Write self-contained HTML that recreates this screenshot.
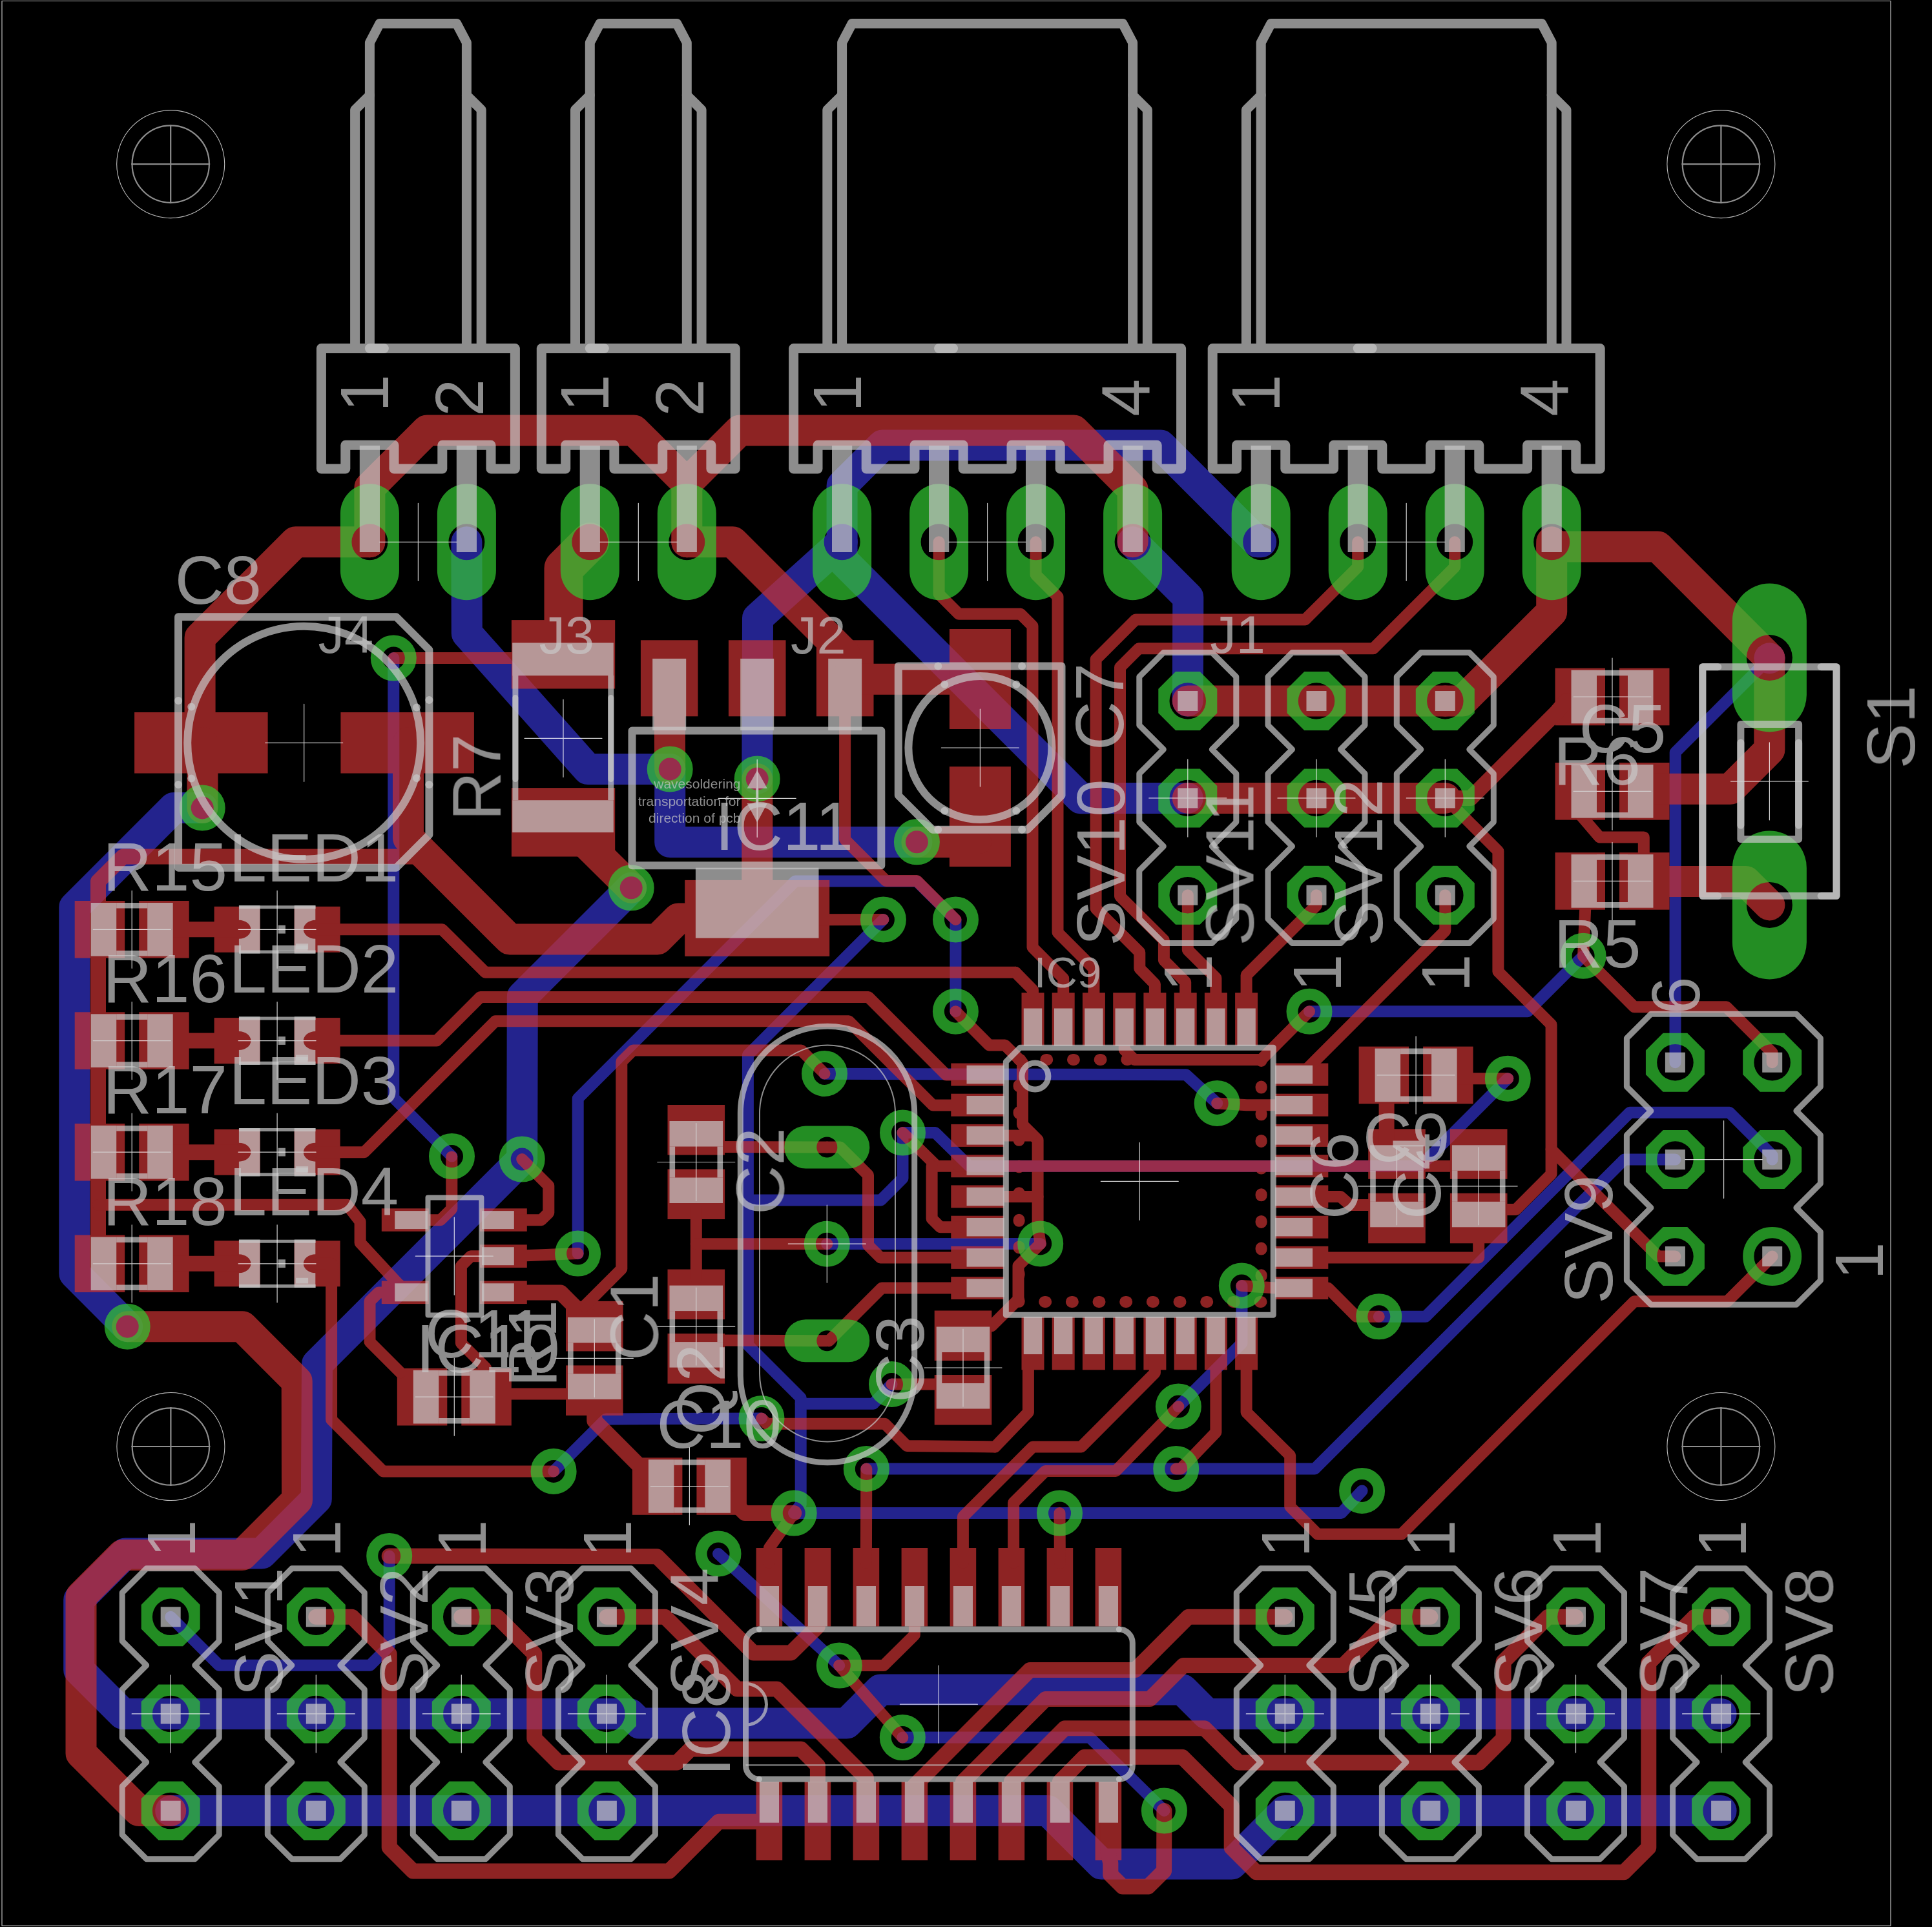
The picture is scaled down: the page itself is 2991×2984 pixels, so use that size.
<!DOCTYPE html><html lang="en"><head><meta charset="utf-8"><title>PCB layout</title><style>html,body{margin:0;padding:0;background:#000}svg{display:block}g{fill:none;stroke-linecap:round;stroke-linejoin:round}text{font-family:"Liberation Sans",sans-serif;stroke:none}#bottom .f{fill:#3232c8;stroke:none}#bottom text{fill:#3232c8}#top .f{fill:#c83232;stroke:none}#top text{fill:#c83232}#pads .f{fill:#32c832;stroke:none}#pads text{fill:#32c832}#vias .f{fill:#32c832;stroke:none}#vias text{fill:#32c832}#dim .f{fill:#c8c8c8;stroke:none}#dim text{fill:#c8c8c8}#tplace .f{fill:#c8c8c8;stroke:none}#tplace text{fill:#c8c8c8}#torig .f{fill:#c8c8c8;stroke:none}#torig text{fill:#c8c8c8}#tnames .f{fill:#c8c8c8;stroke:none}#tnames text{fill:#c8c8c8}#tcream .f{fill:#c8c8c8;stroke:none}#tcream text{fill:#c8c8c8}#tdocu .f{fill:#c8c8c8;stroke:none}#tdocu text{fill:#c8c8c8}#holes .f{fill:#c8c8c8;stroke:none}#holes text{fill:#c8c8c8}</style></head><body>
<svg width="2991" height="2984" viewBox="0 0 2991 2984">
<rect width="2991" height="2984" fill="#000"/>
<g id="bottom" opacity="0.706" stroke="#3232c8">
<polyline points="313.2,1251 269,1251 115.3,1404.7 115.3,1972 197.2,2054.2" stroke-width="48"/>
<polyline points="609.3,1019.1 609.3,1700 699.5,1790.6" stroke-width="18"/>
<polyline points="722.4,839.3 722.8,980.7 910.1,1191.1 1037.4,1191" stroke-width="48"/>
<polyline points="977.2,1374.8 808.8,1543 808.2,1795.1" stroke-width="48"/>
<polyline points="1037.2,1191 1037.2,1304 1419.4,1304" stroke-width="48"/>
<polyline points="1479.4,1566.2 1479.5,1424.5 1419.4,1364.6 1231,1364.6 894.7,1701 894.7,1941.3" stroke-width="18"/>
<polyline points="1303.6,839.3 1303.6,866.8 1673,1236.3 1838.8,1235.9" stroke-width="48"/>
<polyline points="1753.6,839.3 1839.3,925 1838.8,1085.5" stroke-width="48"/>
<polyline points="1397.5,1754.1 1448,1754.1 1500.5,1805.7 2198.8,1805.7 2334.3,1670.2" stroke-width="18"/>
<polyline points="1397.5,1754.1 1397.5,1824.7 1363.8,1858.4 1157.9,1858.4" stroke-width="18"/>
<polyline points="1276.5,1662.8 1836,1664.2 1884.2,1708.5" stroke-width="18"/>
<polyline points="1280.2,1926.2 1610.7,1925.9" stroke-width="18"/>
<polyline points="2027,1566.2 2365.2,1566.2 2451.1,1480.3" stroke-width="18"/>
<polyline points="1367.4,1424 1157.9,1633.5 1157.9,2082.8 1239.7,2164.6 1239.7,2330 1229.2,2343.1" stroke-width="18"/>
<polyline points="1239.7,2173.7 1352,2173.7 1380.5,2143.5" stroke-width="18"/>
<polyline points="857.1,2278.4 938.1,2197.4 1179,2196.4" stroke-width="18"/>
<polyline points="808.2,1795.1 491,2112.3 489.8,2321 405.2,2405.6 193.8,2405.6 122.2,2477.2 122.2,2585.9 190.3,2653.9 939.4,2653.9 975,2653.9 990,2668.6 1310.8,2668.6 1362.9,2616.5 1831,2616.5 1868.4,2653.9 2664.6,2653.9" stroke-width="48"/>
<polyline points="264.2,2804.1 1622.5,2804.1 1705,2886.6 1906.8,2886.6 1989.3,2804.1 2664.6,2804.1" stroke-width="48"/>
<polyline points="264.2,2503.8 339,2578.7 573,2578.7 602.7,2549 602.7,2409.6" stroke-width="18"/>
<polyline points="1112,2406 1299.3,2579.1" stroke-width="18"/>
<polyline points="1397.3,2690.6 1687.2,2690.6 1802.4,2803.9" stroke-width="18"/>
<polyline points="1229.2,2343.1 2076.4,2343.1 2108.6,2308.5" stroke-width="18"/>
<polyline points="1341.3,2274.5 2035.6,2274.5 2514.5,1795.6 2593.4,1795.6" stroke-width="18"/>
<polyline points="1824.4,2178.1 1922.5,2080 1922.5,1991" stroke-width="18"/>
<polyline points="1303.6,839.3 1303.6,752 1366,689.6 1797,689.6 1946.7,839.3 1952.2,839.3" stroke-width="48"/>
<polyline points="2739.4,1019.3 2593.7,1165 2593.5,1645.2" stroke-width="18"/>
<polyline points="2134.8,2038.8 2207,2038.8 2523,1722.8 2677.5,1722.8 2743.7,1789 2743.7,1795.6" stroke-width="18"/>
<polyline points="1303.6,839.3 1173,957 1172.3,1206.1" stroke-width="48"/>
<circle cx="2739.4" cy="1019.3" r="24" class="f"/>
</g>
<g id="top" opacity="0.706" stroke="#c83232">
<rect x="208.1" y="1103" width="206.5" height="94.5" class="f"/>
<rect x="527.4" y="1103" width="206.5" height="94.5" class="f"/>
<rect x="115.7" y="1395" width="77.5" height="88.6" class="f"/>
<rect x="215.2" y="1395" width="77.5" height="88.6" class="f"/>
<rect x="331.6" y="1403.8" width="71" height="71" class="f"/>
<rect x="455.6" y="1403.8" width="71" height="71" class="f"/>
<polyline points="254.2,1439.3 367.1,1439.3" stroke-width="24"/>
<rect x="115.7" y="1567.3" width="77.5" height="88.6" class="f"/>
<rect x="215.2" y="1567.3" width="77.5" height="88.6" class="f"/>
<rect x="331.6" y="1576.1" width="71" height="71" class="f"/>
<rect x="455.6" y="1576.1" width="71" height="71" class="f"/>
<polyline points="254.2,1611.6 367.1,1611.6" stroke-width="24"/>
<rect x="115.7" y="1739.9" width="77.5" height="88.6" class="f"/>
<rect x="215.2" y="1739.9" width="77.5" height="88.6" class="f"/>
<rect x="331.6" y="1748.7" width="71" height="71" class="f"/>
<rect x="455.6" y="1748.7" width="71" height="71" class="f"/>
<polyline points="254.2,1784.2 367.1,1784.2" stroke-width="24"/>
<rect x="115.7" y="1912.5" width="77.5" height="88.6" class="f"/>
<rect x="215.2" y="1912.5" width="77.5" height="88.6" class="f"/>
<rect x="331.6" y="1921.3" width="71" height="71" class="f"/>
<rect x="455.6" y="1921.3" width="71" height="71" class="f"/>
<polyline points="254.2,1956.8 367.1,1956.8" stroke-width="24"/>
<polyline points="572.4,839.3 457.5,839.3 309.6,987.2 309.6,1150" stroke-width="48"/>
<polyline points="313.5,1150 313.5,1251" stroke-width="48"/>
<polyline points="609.3,1019.1 850,1019.1" stroke-width="18"/>
<polyline points="152,1956.8 152,1365 190.5,1326.5 640,1326.5" stroke-width="24"/>
<polyline points="632,1150 632,1297.5 788.9,1454.4 1018,1454.4 1050,1422.4 1172,1422.4" stroke-width="48"/>
<polyline points="491,1439.3 684.6,1439.3 751.2,1505.7 1572,1505.7" stroke-width="18"/>
<polyline points="491,1611.6 676,1611.6 743.7,1543.9 1344.3,1543.9 1465,1664.6 1490,1664.6" stroke-width="18"/>
<polyline points="491,1784.2 564,1784.2 767,1581.2 1313.9,1581.2 1444.2,1711.5 1490,1711.5" stroke-width="18"/>
<rect x="791.9" y="960.1" width="160.3" height="106.4" class="f"/>
<rect x="791.9" y="1220.1" width="160.3" height="106.4" class="f"/>
<polyline points="913.3,839.3 872.5,880 872.5,1013" stroke-width="60"/>
<polyline points="872,1271 977.2,1374.8" stroke-width="48"/>
<rect x="991.9" y="991.3" width="88.6" height="118" class="f"/>
<rect x="1127.9" y="991.3" width="88.6" height="118" class="f"/>
<rect x="1263.9" y="991.3" width="88.6" height="118" class="f"/>
<rect x="1060.2" y="1362.9" width="224" height="118" class="f"/>
<polyline points="1036.4,1050 1037.2,1191" stroke-width="48"/>
<polyline points="1172.3,1206.1 1172.3,1422" stroke-width="48"/>
<polyline points="1308.2,1050 1308,1300 1371.6,1363.9 1419.4,1363.9 1479.5,1424" stroke-width="18"/>
<polyline points="1308.2,1051.8 1517,1051.8" stroke-width="48"/>
<polyline points="1260,1424.4 1367.4,1424" stroke-width="18"/>
<polyline points="1419.4,1304 1517,1304" stroke-width="48"/>
<rect x="1469.9" y="974" width="95" height="155" class="f"/>
<rect x="1469.9" y="1187" width="95" height="155" class="f"/>
<polyline points="1838.8,1085.5 2237.3,1085.5" stroke-width="48"/>
<polyline points="1838.8,1235.9 2237.3,1235.9" stroke-width="48"/>
<polyline points="1419.4,1304 1517,1304" stroke-width="36"/>
<polyline points="1572,1505.7 1599,1533 1599,1577" stroke-width="18"/>
<polyline points="1453.6,839.3 1453.6,920 1484.4,950.8 1580,950.8 1598.5,969.3 1598.5,1467 1646.2,1515 1646.2,1577" stroke-width="18"/>
<polyline points="1603.6,839.3 1603.6,890 1637.5,924 1637.5,1444 1693.4,1500 1693.4,1577" stroke-width="18"/>
<polyline points="2102.2,839.3 2102.2,878 2020.7,959.4 1758.2,959.4 1696.6,1021 1696.6,1407 1764.3,1474.7 1764.3,1499.7 1787.9,1523.8 1787.9,1577" stroke-width="18"/>
<polyline points="2252.2,839.3 2252.2,878 2126,1004.3 1763,1004.3 1734,1033.4 1734,1388 1801.9,1455.9 1801.9,1487 1835.2,1520.7 1835.2,1577" stroke-width="18"/>
<polyline points="1838.8,1386.2 1838.8,1471 1882.4,1514.4 1882.4,1577" stroke-width="18"/>
<polyline points="2038,1386.2 2038,1402 1929.6,1510 1929.6,1577" stroke-width="18"/>
<rect x="1581.5" y="1537.3" width="35" height="82" class="f"/>
<rect x="1581.5" y="2039.3" width="35" height="82" class="f"/>
<rect x="1472.3" y="1646.5" width="82" height="35" class="f"/>
<rect x="1974.3" y="1646.5" width="82" height="35" class="f"/>
<rect x="1628.7" y="1537.3" width="35" height="82" class="f"/>
<rect x="1628.7" y="2039.3" width="35" height="82" class="f"/>
<rect x="1472.3" y="1693.7" width="82" height="35" class="f"/>
<rect x="1974.3" y="1693.7" width="82" height="35" class="f"/>
<rect x="1675.9" y="1537.3" width="35" height="82" class="f"/>
<rect x="1675.9" y="2039.3" width="35" height="82" class="f"/>
<rect x="1472.3" y="1740.9" width="82" height="35" class="f"/>
<rect x="1974.3" y="1740.9" width="82" height="35" class="f"/>
<rect x="1723.2" y="1537.3" width="35" height="82" class="f"/>
<rect x="1723.2" y="2039.3" width="35" height="82" class="f"/>
<rect x="1472.3" y="1788.2" width="82" height="35" class="f"/>
<rect x="1974.3" y="1788.2" width="82" height="35" class="f"/>
<rect x="1770.4" y="1537.3" width="35" height="82" class="f"/>
<rect x="1770.4" y="2039.3" width="35" height="82" class="f"/>
<rect x="1472.3" y="1835.4" width="82" height="35" class="f"/>
<rect x="1974.3" y="1835.4" width="82" height="35" class="f"/>
<rect x="1817.7" y="1537.3" width="35" height="82" class="f"/>
<rect x="1817.7" y="2039.3" width="35" height="82" class="f"/>
<rect x="1472.3" y="1882.7" width="82" height="35" class="f"/>
<rect x="1974.3" y="1882.7" width="82" height="35" class="f"/>
<rect x="1864.9" y="1537.3" width="35" height="82" class="f"/>
<rect x="1864.9" y="2039.3" width="35" height="82" class="f"/>
<rect x="1472.3" y="1929.9" width="82" height="35" class="f"/>
<rect x="1974.3" y="1929.9" width="82" height="35" class="f"/>
<rect x="1912.1" y="1537.3" width="35" height="82" class="f"/>
<rect x="1912.1" y="2039.3" width="35" height="82" class="f"/>
<rect x="1472.3" y="1977.1" width="82" height="35" class="f"/>
<rect x="1974.3" y="1977.1" width="82" height="35" class="f"/>
<rect x="1577.6" y="1640.9" width="375" height="375" stroke-width="18" stroke-dasharray="2 39.67"/>
<polyline points="1479.4,1566.2 1531.3,1618.4 1555.7,1618.4 1583,1645.6 1583,1741.6 1606.6,1765.2 1606.6,1900 1610.7,1925.9" stroke-width="18"/>
<polyline points="1524.3,1758.4 1596,1758.4" stroke-width="18"/>
<polyline points="1524.3,1852.9 1606.6,1852.9" stroke-width="18"/>
<polyline points="1484.3,1805.7 1450,1805.7 1397.5,1754.1" stroke-width="18"/>
<polyline points="1442.6,1805.7 1442.6,1887.2 1455.6,1900.2 1484.3,1900.2" stroke-width="18"/>
<polyline points="1484.3,1805.7 2289,1805.7" stroke-width="18"/>
<polyline points="1484.3,1947.4 1363,1947.4 1344,1928.4 1344,1819.7 1300.9,1776.6 1280.5,1776.6" stroke-width="18"/>
<polyline points="1484.3,1994.6 1365,1994.6 1283.3,2076.4" stroke-width="18"/>
<polyline points="1610.7,1925.9 1576.5,1960 1576.5,2012 1535,2053.5" stroke-width="18"/>
<rect x="2103.6" y="1620.6" width="77.5" height="88.6" class="f"/>
<rect x="2203.1" y="1620.6" width="77.5" height="88.6" class="f"/>
<rect x="2118.2" y="1748.3" width="88.6" height="77.5" class="f"/>
<rect x="2118.2" y="1847.8" width="88.6" height="77.5" class="f"/>
<rect x="2244.9" y="1748.3" width="88.6" height="77.5" class="f"/>
<rect x="2244.9" y="1847.8" width="88.6" height="77.5" class="f"/>
<polyline points="2250,1670.2 2334.3,1670.2" stroke-width="18"/>
<polyline points="2146.6,1680 2146.6,1780" stroke-width="24"/>
<polyline points="2004.3,1852.9 2075,1852.9 2090,1866 2125,1866" stroke-width="18"/>
<polyline points="1884.2,1708.5 1930,1711.2 2044.3,1711.2" stroke-width="18"/>
<polyline points="2237.3,1386.2 2237.3,1441.3 2014.6,1664" stroke-width="18"/>
<polyline points="1740.7,1577 1740.7,1625.7 1756,1640.9 1952.6,1640.9 2027,1566.2" stroke-width="18"/>
<polyline points="2237.3,1235.9 2319.4,1318 2319.4,1504.5 2401.6,1586.7 2401.6,1818 2347,1872.9 2320,1872.9" stroke-width="18"/>
<polyline points="2401.6,1780 2567,1945.5 2593.4,1945.6" stroke-width="18"/>
<polyline points="2004.3,1947.4 2289.2,1947.4 2289.2,1890" stroke-width="18"/>
<rect x="1033.5" y="1711" width="88.6" height="77.5" class="f"/>
<rect x="1033.5" y="1810.5" width="88.6" height="77.5" class="f"/>
<rect x="1033.5" y="1965.6" width="88.6" height="77.5" class="f"/>
<rect x="1033.5" y="2065.1" width="88.6" height="77.5" class="f"/>
<rect x="1446.7" y="2029.5" width="88.6" height="77.5" class="f"/>
<rect x="1446.7" y="2129" width="88.6" height="77.5" class="f"/>
<polyline points="1077.8,1870 1077.8,1980" stroke-width="18"/>
<polyline points="1077.8,1926.2 1280.3,1926.2" stroke-width="18"/>
<polyline points="1110,1776.1 1280.3,1776.4" stroke-width="18"/>
<polyline points="1110,2075.6 1280.3,2076.2" stroke-width="18"/>
<polyline points="1380.5,2143.5 1460,2143.5" stroke-width="18"/>
<polyline points="1179,2196.4 1187,2204.8 1370,2204.8 1404,2239 1540.5,2240.4" stroke-width="18"/>
<rect x="590.8" y="1871.3" width="73" height="35.6" class="f"/>
<rect x="590.8" y="1983.5" width="73" height="35.6" class="f"/>
<rect x="742.8" y="1871.3" width="73" height="35.6" class="f"/>
<rect x="742.8" y="1927.4" width="73" height="35.6" class="f"/>
<rect x="742.8" y="1983.5" width="73" height="35.6" class="f"/>
<rect x="614.8" y="2118.9" width="77.5" height="88.6" class="f"/>
<rect x="714.3" y="2118.9" width="77.5" height="88.6" class="f"/>
<rect x="876" y="2014.9" width="88.6" height="77.5" class="f"/>
<rect x="876" y="2114.4" width="88.6" height="77.5" class="f"/>
<rect x="978.9" y="2257.2" width="77.5" height="88.6" class="f"/>
<rect x="1078.4" y="2257.2" width="77.5" height="88.6" class="f"/>
<polyline points="699.3,1791.4 699.3,1872 682,1889.2 640,1889.2" stroke-width="18"/>
<polyline points="808.2,1795.1 849.3,1836.2 849.3,1878 838,1889.2 790,1889.2" stroke-width="18"/>
<polyline points="790,1945.2 894.6,1941.1" stroke-width="18"/>
<polyline points="790,2001.6 868,2001.6 895,2028.6 915,2040" stroke-width="24"/>
<polyline points="1276.5,1662.5 1240.4,1626.4 980,1626.4 962.3,1644 962.3,1965 905,2022.3" stroke-width="18"/>
<polyline points="750,1945.2 729,1945.2 713.9,1960.3 713.9,2080 752,2118" stroke-width="18"/>
<polyline points="610,2001.6 586,2001.6 572.5,2015 572.5,2078 620,2125.5" stroke-width="18"/>
<polyline points="152,1865.8 537.4,1865.8 557.6,1891.7 557.6,1924.4 615.2,1986.6 632,2001.6" stroke-width="18"/>
<polyline points="491,1956.8 513.1,1956.8 513.1,2198.4 593.1,2278.4 857.1,2278.4" stroke-width="18"/>
<polyline points="920.3,2170 920.3,2200 1000,2280 1017,2301" stroke-width="24"/>
<polyline points="770,2158.5 890,2158.5" stroke-width="18"/>
<polyline points="197.2,2054.2 375.2,2054.2 459.7,2139 460,2322.8 374.9,2408 189.6,2408 125.5,2472.1 125.5,2715 214.9,2804.1 264.2,2804.1" stroke-width="48"/>
<polyline points="489.3,2503.8 545,2503.8 602.7,2561.5 602.7,2860.8 639.4,2897.5 1035.9,2897.5 1112.7,2820.7 1190.9,2820.7" stroke-width="24"/>
<polyline points="602.7,2409.6 1017.2,2410.3 1166.4,2559.5 1224.5,2559.5 1265.9,2518.4 1265.9,2480" stroke-width="24"/>
<polyline points="714.3,2503.8 770,2503.8 827.3,2561 827.3,2692 864.8,2729.5 1048,2729.5 1069,2708.6 1240.1,2708.6 1265.9,2734.2 1265.9,2780" stroke-width="24"/>
<polyline points="939.4,2503.8 1029.7,2503.8 1141.2,2615.5 1202.7,2615.5 1340.9,2753.2 1340.9,2780" stroke-width="24"/>
<rect x="1170.6" y="2397" width="40.6" height="121.5" class="f"/>
<rect x="1170.6" y="2759" width="40.6" height="121.5" class="f"/>
<rect x="1245.6" y="2397" width="40.6" height="121.5" class="f"/>
<rect x="1245.6" y="2759" width="40.6" height="121.5" class="f"/>
<rect x="1320.6" y="2397" width="40.6" height="121.5" class="f"/>
<rect x="1320.6" y="2759" width="40.6" height="121.5" class="f"/>
<rect x="1395.6" y="2397" width="40.6" height="121.5" class="f"/>
<rect x="1395.6" y="2759" width="40.6" height="121.5" class="f"/>
<rect x="1470.6" y="2397" width="40.6" height="121.5" class="f"/>
<rect x="1470.6" y="2759" width="40.6" height="121.5" class="f"/>
<rect x="1545.6" y="2397" width="40.6" height="121.5" class="f"/>
<rect x="1545.6" y="2759" width="40.6" height="121.5" class="f"/>
<rect x="1620.6" y="2397" width="40.6" height="121.5" class="f"/>
<rect x="1620.6" y="2759" width="40.6" height="121.5" class="f"/>
<rect x="1695.6" y="2397" width="40.6" height="121.5" class="f"/>
<rect x="1695.6" y="2759" width="40.6" height="121.5" class="f"/>
<polyline points="1299.3,2579.1 1397.3,2690.6" stroke-width="18"/>
<polyline points="1299.3,2579.1 1368,2579.1 1415.9,2531.7 1415.9,2480" stroke-width="18"/>
<polyline points="1229.2,2343.1 1190.9,2397 1190.9,2420" stroke-width="18"/>
<polyline points="1130,2320 1153,2343.1 1229.2,2343.1" stroke-width="24"/>
<polyline points="1340.9,2420 1341.3,2274.5" stroke-width="18"/>
<polyline points="1640.9,2420 1640.5,2343.1" stroke-width="18"/>
<polyline points="1415.9,2800 1415.9,2765 1594.4,2586 1757.4,2586 1839.7,2503.8 1989.3,2503.8" stroke-width="24"/>
<polyline points="1490.9,2800 1490.9,2759 1618.7,2631.1 1780,2631.1 1832,2579.1 2079.5,2579.1 2154.9,2503.8 2214.4,2503.8" stroke-width="24"/>
<polyline points="1565.9,2800 1565.9,2759 1648.3,2676.2 1864.7,2676.2 1918,2729.5 2290,2729.5 2327.6,2692 2327.6,2573 2396.6,2503.8 2439.5,2503.8" stroke-width="24"/>
<polyline points="1640.9,2800 1640.9,2759 1678.7,2720.8 1830.4,2720.8 1906.7,2797.1 1906.7,2861 1945,2899.2 2514,2899.2 2552.3,2861 2552.3,2575 2623.5,2503.8 2664.6,2503.8" stroke-width="24"/>
<polyline points="1715.9,2800 1715.9,2870 1719.3,2885 1719.3,2903 1737.9,2921.6 1777.5,2921.6 1802.1,2897 1802.4,2803.9" stroke-width="24"/>
<polyline points="1540.5,2240.4 1591.9,2187 1591.9,2089.3 1599,2079.3" stroke-width="18"/>
<polyline points="1787.9,2079.3 1787.9,2126 1674,2240.4 1599,2240.4 1490.9,2348.6 1490.9,2420" stroke-width="18"/>
<polyline points="1882.4,2079.3 1882.4,2218 1828,2274.6 1820.7,2274.6" stroke-width="18"/>
<polyline points="1824.4,2178.1 1727.3,2278 1618.3,2278 1569.1,2327 1569.1,2420" stroke-width="18"/>
<polyline points="1929.6,2079.3 1929.6,2187 1997.2,2253.8 1997.2,2333 2040,2375.8 2169.5,2375.8 2530,2015.3 2673.9,2015.3 2743.7,1945.6" stroke-width="18"/>
<polyline points="572.4,839.3 572.4,755 661,666.4 981.4,666.4 1063.3,748.3 1063.3,839.3" stroke-width="48"/>
<polyline points="1063.3,748.3 1145.2,666.4 1662.4,666.4 1753.6,757.6 1753.6,839.3" stroke-width="48"/>
<polyline points="1063.3,839.3 1134.5,839.3 1308.2,1013" stroke-width="48"/>
<rect x="2407.5" y="1034.7" width="77.5" height="88.6" class="f"/>
<rect x="2507" y="1034.7" width="77.5" height="88.6" class="f"/>
<rect x="2407.5" y="1181" width="77.5" height="88.6" class="f"/>
<rect x="2507" y="1181" width="77.5" height="88.6" class="f"/>
<rect x="2407.5" y="1320.1" width="77.5" height="88.6" class="f"/>
<rect x="2507" y="1320.1" width="77.5" height="88.6" class="f"/>
<polyline points="2402.2,846.5 2566.6,846.5 2739.4,1019.3" stroke-width="48"/>
<polyline points="2402.2,839.3 2402.2,947.5 2264.2,1085.5 2237.3,1085.5" stroke-width="48"/>
<polyline points="2237.3,1235.9 2276.8,1235.9 2409,1103.7 2425,1085" stroke-width="24"/>
<polyline points="2560,1221.7 2678.7,1221.7 2739.4,1161 2739.4,1019.3" stroke-width="48"/>
<polyline points="2560,1364.9 2702.7,1364.9 2739.4,1401.4" stroke-width="48"/>
<polyline points="2446.8,1262 2476.3,1296.4 2544.8,1296.4 2544.8,1330" stroke-width="18"/>
<polyline points="2454.5,1400 2451.1,1480.3" stroke-width="18"/>
<polyline points="2451.1,1480.3 2530.1,1559.3 2672.8,1559.3 2743.7,1630.2 2743.7,1645.2" stroke-width="18"/>
<polyline points="2004.3,1994.6 2056,1994.6 2100,2038.8 2134.8,2038.8" stroke-width="18"/>
<polyline points="1922.3,1991 1975,1994.6" stroke-width="18"/>
</g>
<g id="pads" opacity="0.706" stroke="#32c832">
<path d="M572.4,749.3h0a45.5,45.5 0 0,1 45.5,45.5v89a45.5,45.5 0 0,1 -45.5,45.5h-0a45.5,45.5 0 0,1 -45.5,-45.5v-89a45.5,45.5 0 0,1 45.5,-45.5zM544.4,839.3a28,28 0 1,0 56,0a28,28 0 1,0 -56,0z" class="f" fill-rule="evenodd"/>
<path d="M722.4,749.3h0a45.5,45.5 0 0,1 45.5,45.5v89a45.5,45.5 0 0,1 -45.5,45.5h-0a45.5,45.5 0 0,1 -45.5,-45.5v-89a45.5,45.5 0 0,1 45.5,-45.5zM694.4,839.3a28,28 0 1,0 56,0a28,28 0 1,0 -56,0z" class="f" fill-rule="evenodd"/>
<path d="M913.3,749.3h0a45.5,45.5 0 0,1 45.5,45.5v89a45.5,45.5 0 0,1 -45.5,45.5h-0a45.5,45.5 0 0,1 -45.5,-45.5v-89a45.5,45.5 0 0,1 45.5,-45.5zM885.3,839.3a28,28 0 1,0 56,0a28,28 0 1,0 -56,0z" class="f" fill-rule="evenodd"/>
<path d="M1063.3,749.3h0a45.5,45.5 0 0,1 45.5,45.5v89a45.5,45.5 0 0,1 -45.5,45.5h-0a45.5,45.5 0 0,1 -45.5,-45.5v-89a45.5,45.5 0 0,1 45.5,-45.5zM1035.3,839.3a28,28 0 1,0 56,0a28,28 0 1,0 -56,0z" class="f" fill-rule="evenodd"/>
<path d="M1303.6,749.3h0a45.5,45.5 0 0,1 45.5,45.5v89a45.5,45.5 0 0,1 -45.5,45.5h-0a45.5,45.5 0 0,1 -45.5,-45.5v-89a45.5,45.5 0 0,1 45.5,-45.5zM1275.6,839.3a28,28 0 1,0 56,0a28,28 0 1,0 -56,0z" class="f" fill-rule="evenodd"/>
<path d="M1453.6,749.3h0a45.5,45.5 0 0,1 45.5,45.5v89a45.5,45.5 0 0,1 -45.5,45.5h-0a45.5,45.5 0 0,1 -45.5,-45.5v-89a45.5,45.5 0 0,1 45.5,-45.5zM1425.6,839.3a28,28 0 1,0 56,0a28,28 0 1,0 -56,0z" class="f" fill-rule="evenodd"/>
<path d="M1603.6,749.3h0a45.5,45.5 0 0,1 45.5,45.5v89a45.5,45.5 0 0,1 -45.5,45.5h-0a45.5,45.5 0 0,1 -45.5,-45.5v-89a45.5,45.5 0 0,1 45.5,-45.5zM1575.6,839.3a28,28 0 1,0 56,0a28,28 0 1,0 -56,0z" class="f" fill-rule="evenodd"/>
<path d="M1753.6,749.3h0a45.5,45.5 0 0,1 45.5,45.5v89a45.5,45.5 0 0,1 -45.5,45.5h-0a45.5,45.5 0 0,1 -45.5,-45.5v-89a45.5,45.5 0 0,1 45.5,-45.5zM1725.6,839.3a28,28 0 1,0 56,0a28,28 0 1,0 -56,0z" class="f" fill-rule="evenodd"/>
<path d="M1952.2,749.3h0a45.5,45.5 0 0,1 45.5,45.5v89a45.5,45.5 0 0,1 -45.5,45.5h-0a45.5,45.5 0 0,1 -45.5,-45.5v-89a45.5,45.5 0 0,1 45.5,-45.5zM1924.2,839.3a28,28 0 1,0 56,0a28,28 0 1,0 -56,0z" class="f" fill-rule="evenodd"/>
<path d="M2102.2,749.3h0a45.5,45.5 0 0,1 45.5,45.5v89a45.5,45.5 0 0,1 -45.5,45.5h-0a45.5,45.5 0 0,1 -45.5,-45.5v-89a45.5,45.5 0 0,1 45.5,-45.5zM2074.2,839.3a28,28 0 1,0 56,0a28,28 0 1,0 -56,0z" class="f" fill-rule="evenodd"/>
<path d="M2252.2,749.3h0a45.5,45.5 0 0,1 45.5,45.5v89a45.5,45.5 0 0,1 -45.5,45.5h-0a45.5,45.5 0 0,1 -45.5,-45.5v-89a45.5,45.5 0 0,1 45.5,-45.5zM2224.2,839.3a28,28 0 1,0 56,0a28,28 0 1,0 -56,0z" class="f" fill-rule="evenodd"/>
<path d="M2402.2,749.3h0a45.5,45.5 0 0,1 45.5,45.5v89a45.5,45.5 0 0,1 -45.5,45.5h-0a45.5,45.5 0 0,1 -45.5,-45.5v-89a45.5,45.5 0 0,1 45.5,-45.5zM2374.2,839.3a28,28 0 1,0 56,0a28,28 0 1,0 -56,0z" class="f" fill-rule="evenodd"/>
<path d="M1820,1040L1857.6,1040L1884.3,1066.7L1884.3,1104.3L1857.6,1131L1820,1131L1793.3,1104.3L1793.3,1066.7zM1810.5,1085.5a28.2,28.2 0 1,0 56.5,0a28.2,28.2 0 1,0 -56.5,0z" class="f" fill-rule="evenodd"/>
<path d="M1820,1190.4L1857.6,1190.4L1884.3,1217.1L1884.3,1254.7L1857.6,1281.4L1820,1281.4L1793.3,1254.7L1793.3,1217.1zM1810.5,1235.9a28.2,28.2 0 1,0 56.5,0a28.2,28.2 0 1,0 -56.5,0z" class="f" fill-rule="evenodd"/>
<path d="M1820,1340.7L1857.6,1340.7L1884.3,1367.4L1884.3,1405L1857.6,1431.7L1820,1431.7L1793.3,1405L1793.3,1367.4zM1810.5,1386.2a28.2,28.2 0 1,0 56.5,0a28.2,28.2 0 1,0 -56.5,0z" class="f" fill-rule="evenodd"/>
<path d="M2019.2,1040L2056.8,1040L2083.5,1066.7L2083.5,1104.3L2056.8,1131L2019.2,1131L1992.5,1104.3L1992.5,1066.7zM2009.8,1085.5a28.2,28.2 0 1,0 56.5,0a28.2,28.2 0 1,0 -56.5,0z" class="f" fill-rule="evenodd"/>
<path d="M2019.2,1190.4L2056.8,1190.4L2083.5,1217.1L2083.5,1254.7L2056.8,1281.4L2019.2,1281.4L1992.5,1254.7L1992.5,1217.1zM2009.8,1235.9a28.2,28.2 0 1,0 56.5,0a28.2,28.2 0 1,0 -56.5,0z" class="f" fill-rule="evenodd"/>
<path d="M2019.2,1340.7L2056.8,1340.7L2083.5,1367.4L2083.5,1405L2056.8,1431.7L2019.2,1431.7L1992.5,1405L1992.5,1367.4zM2009.8,1386.2a28.2,28.2 0 1,0 56.5,0a28.2,28.2 0 1,0 -56.5,0z" class="f" fill-rule="evenodd"/>
<path d="M2218.5,1040L2256.1,1040L2282.8,1066.7L2282.8,1104.3L2256.1,1131L2218.5,1131L2191.8,1104.3L2191.8,1066.7zM2209.1,1085.5a28.2,28.2 0 1,0 56.5,0a28.2,28.2 0 1,0 -56.5,0z" class="f" fill-rule="evenodd"/>
<path d="M2218.5,1190.4L2256.1,1190.4L2282.8,1217.1L2282.8,1254.7L2256.1,1281.4L2218.5,1281.4L2191.8,1254.7L2191.8,1217.1zM2209.1,1235.9a28.2,28.2 0 1,0 56.5,0a28.2,28.2 0 1,0 -56.5,0z" class="f" fill-rule="evenodd"/>
<path d="M2218.5,1340.7L2256.1,1340.7L2282.8,1367.4L2282.8,1405L2256.1,1431.7L2218.5,1431.7L2191.8,1405L2191.8,1367.4zM2209.1,1386.2a28.2,28.2 0 1,0 56.5,0a28.2,28.2 0 1,0 -56.5,0z" class="f" fill-rule="evenodd"/>
<path d="M1247.3,1743.4h66a33,33 0 0,1 33,33v0a33,33 0 0,1 -33,33h-66a33,33 0 0,1 -33,-33v-0a33,33 0 0,1 33,-33zM1264.3,1776.4a16,16 0 1,0 32,0a16,16 0 1,0 -32,0z" class="f" fill-rule="evenodd"/>
<path d="M1247.3,2043.2h66a33,33 0 0,1 33,33v0a33,33 0 0,1 -33,33h-66a33,33 0 0,1 -33,-33v-0a33,33 0 0,1 33,-33zM1264.3,2076.2a16,16 0 1,0 32,0a16,16 0 1,0 -32,0z" class="f" fill-rule="evenodd"/>
<path d="M245.4,2458.3L283,2458.3L309.7,2485L309.7,2522.6L283,2549.3L245.4,2549.3L218.7,2522.6L218.7,2485zM235.9,2503.8a28.2,28.2 0 1,0 56.5,0a28.2,28.2 0 1,0 -56.5,0z" class="f" fill-rule="evenodd"/>
<path d="M245.4,2608.4L283,2608.4L309.7,2635.1L309.7,2672.7L283,2699.4L245.4,2699.4L218.7,2672.7L218.7,2635.1zM235.9,2653.9a28.2,28.2 0 1,0 56.5,0a28.2,28.2 0 1,0 -56.5,0z" class="f" fill-rule="evenodd"/>
<path d="M245.4,2758.6L283,2758.6L309.7,2785.3L309.7,2822.9L283,2849.6L245.4,2849.6L218.7,2822.9L218.7,2785.3zM235.9,2804.1a28.2,28.2 0 1,0 56.5,0a28.2,28.2 0 1,0 -56.5,0z" class="f" fill-rule="evenodd"/>
<path d="M470.5,2458.3L508.1,2458.3L534.8,2485L534.8,2522.6L508.1,2549.3L470.5,2549.3L443.8,2522.6L443.8,2485zM461.1,2503.8a28.2,28.2 0 1,0 56.5,0a28.2,28.2 0 1,0 -56.5,0z" class="f" fill-rule="evenodd"/>
<path d="M470.5,2608.4L508.1,2608.4L534.8,2635.1L534.8,2672.7L508.1,2699.4L470.5,2699.4L443.8,2672.7L443.8,2635.1zM461.1,2653.9a28.2,28.2 0 1,0 56.5,0a28.2,28.2 0 1,0 -56.5,0z" class="f" fill-rule="evenodd"/>
<path d="M470.5,2758.6L508.1,2758.6L534.8,2785.3L534.8,2822.9L508.1,2849.6L470.5,2849.6L443.8,2822.9L443.8,2785.3zM461.1,2804.1a28.2,28.2 0 1,0 56.5,0a28.2,28.2 0 1,0 -56.5,0z" class="f" fill-rule="evenodd"/>
<path d="M695.5,2458.3L733.1,2458.3L759.8,2485L759.8,2522.6L733.1,2549.3L695.5,2549.3L668.8,2522.6L668.8,2485zM686,2503.8a28.2,28.2 0 1,0 56.5,0a28.2,28.2 0 1,0 -56.5,0z" class="f" fill-rule="evenodd"/>
<path d="M695.5,2608.4L733.1,2608.4L759.8,2635.1L759.8,2672.7L733.1,2699.4L695.5,2699.4L668.8,2672.7L668.8,2635.1zM686,2653.9a28.2,28.2 0 1,0 56.5,0a28.2,28.2 0 1,0 -56.5,0z" class="f" fill-rule="evenodd"/>
<path d="M695.5,2758.6L733.1,2758.6L759.8,2785.3L759.8,2822.9L733.1,2849.6L695.5,2849.6L668.8,2822.9L668.8,2785.3zM686,2804.1a28.2,28.2 0 1,0 56.5,0a28.2,28.2 0 1,0 -56.5,0z" class="f" fill-rule="evenodd"/>
<path d="M920.6,2458.3L958.2,2458.3L984.9,2485L984.9,2522.6L958.2,2549.3L920.6,2549.3L893.9,2522.6L893.9,2485zM911.1,2503.8a28.2,28.2 0 1,0 56.5,0a28.2,28.2 0 1,0 -56.5,0z" class="f" fill-rule="evenodd"/>
<path d="M920.6,2608.4L958.2,2608.4L984.9,2635.1L984.9,2672.7L958.2,2699.4L920.6,2699.4L893.9,2672.7L893.9,2635.1zM911.1,2653.9a28.2,28.2 0 1,0 56.5,0a28.2,28.2 0 1,0 -56.5,0z" class="f" fill-rule="evenodd"/>
<path d="M920.6,2758.6L958.2,2758.6L984.9,2785.3L984.9,2822.9L958.2,2849.6L920.6,2849.6L893.9,2822.9L893.9,2785.3zM911.1,2804.1a28.2,28.2 0 1,0 56.5,0a28.2,28.2 0 1,0 -56.5,0z" class="f" fill-rule="evenodd"/>
<path d="M1970.5,2458.3L2008.1,2458.3L2034.8,2485L2034.8,2522.6L2008.1,2549.3L1970.5,2549.3L1943.8,2522.6L1943.8,2485zM1961,2503.8a28.2,28.2 0 1,0 56.5,0a28.2,28.2 0 1,0 -56.5,0z" class="f" fill-rule="evenodd"/>
<path d="M1970.5,2608.4L2008.1,2608.4L2034.8,2635.1L2034.8,2672.7L2008.1,2699.4L1970.5,2699.4L1943.8,2672.7L1943.8,2635.1zM1961,2653.9a28.2,28.2 0 1,0 56.5,0a28.2,28.2 0 1,0 -56.5,0z" class="f" fill-rule="evenodd"/>
<path d="M1970.5,2758.6L2008.1,2758.6L2034.8,2785.3L2034.8,2822.9L2008.1,2849.6L1970.5,2849.6L1943.8,2822.9L1943.8,2785.3zM1961,2804.1a28.2,28.2 0 1,0 56.5,0a28.2,28.2 0 1,0 -56.5,0z" class="f" fill-rule="evenodd"/>
<path d="M2195.6,2458.3L2233.2,2458.3L2259.9,2485L2259.9,2522.6L2233.2,2549.3L2195.6,2549.3L2168.9,2522.6L2168.9,2485zM2186.2,2503.8a28.2,28.2 0 1,0 56.5,0a28.2,28.2 0 1,0 -56.5,0z" class="f" fill-rule="evenodd"/>
<path d="M2195.6,2608.4L2233.2,2608.4L2259.9,2635.1L2259.9,2672.7L2233.2,2699.4L2195.6,2699.4L2168.9,2672.7L2168.9,2635.1zM2186.2,2653.9a28.2,28.2 0 1,0 56.5,0a28.2,28.2 0 1,0 -56.5,0z" class="f" fill-rule="evenodd"/>
<path d="M2195.6,2758.6L2233.2,2758.6L2259.9,2785.3L2259.9,2822.9L2233.2,2849.6L2195.6,2849.6L2168.9,2822.9L2168.9,2785.3zM2186.2,2804.1a28.2,28.2 0 1,0 56.5,0a28.2,28.2 0 1,0 -56.5,0z" class="f" fill-rule="evenodd"/>
<path d="M2420.7,2458.3L2458.3,2458.3L2485,2485L2485,2522.6L2458.3,2549.3L2420.7,2549.3L2394,2522.6L2394,2485zM2411.2,2503.8a28.2,28.2 0 1,0 56.5,0a28.2,28.2 0 1,0 -56.5,0z" class="f" fill-rule="evenodd"/>
<path d="M2420.7,2608.4L2458.3,2608.4L2485,2635.1L2485,2672.7L2458.3,2699.4L2420.7,2699.4L2394,2672.7L2394,2635.1zM2411.2,2653.9a28.2,28.2 0 1,0 56.5,0a28.2,28.2 0 1,0 -56.5,0z" class="f" fill-rule="evenodd"/>
<path d="M2420.7,2758.6L2458.3,2758.6L2485,2785.3L2485,2822.9L2458.3,2849.6L2420.7,2849.6L2394,2822.9L2394,2785.3zM2411.2,2804.1a28.2,28.2 0 1,0 56.5,0a28.2,28.2 0 1,0 -56.5,0z" class="f" fill-rule="evenodd"/>
<path d="M2645.8,2458.3L2683.4,2458.3L2710.1,2485L2710.1,2522.6L2683.4,2549.3L2645.8,2549.3L2619.1,2522.6L2619.1,2485zM2636.3,2503.8a28.2,28.2 0 1,0 56.5,0a28.2,28.2 0 1,0 -56.5,0z" class="f" fill-rule="evenodd"/>
<path d="M2645.8,2608.4L2683.4,2608.4L2710.1,2635.1L2710.1,2672.7L2683.4,2699.4L2645.8,2699.4L2619.1,2672.7L2619.1,2635.1zM2636.3,2653.9a28.2,28.2 0 1,0 56.5,0a28.2,28.2 0 1,0 -56.5,0z" class="f" fill-rule="evenodd"/>
<path d="M2645.8,2758.6L2683.4,2758.6L2710.1,2785.3L2710.1,2822.9L2683.4,2849.6L2645.8,2849.6L2619.1,2822.9L2619.1,2785.3zM2636.3,2804.1a28.2,28.2 0 1,0 56.5,0a28.2,28.2 0 1,0 -56.5,0z" class="f" fill-rule="evenodd"/>
<path d="M2739.4,903.5h0a57.5,57.5 0 0,1 57.5,57.5v115a57.5,57.5 0 0,1 -57.5,57.5h-0a57.5,57.5 0 0,1 -57.5,-57.5v-115a57.5,57.5 0 0,1 57.5,-57.5zM2703.9,1018.5a35.5,35.5 0 1,0 71,0a35.5,35.5 0 1,0 -71,0z" class="f" fill-rule="evenodd"/>
<path d="M2739.4,1286.4h0a57.5,57.5 0 0,1 57.5,57.5v115a57.5,57.5 0 0,1 -57.5,57.5h-0a57.5,57.5 0 0,1 -57.5,-57.5v-115a57.5,57.5 0 0,1 57.5,-57.5zM2703.9,1401.4a35.5,35.5 0 1,0 71,0a35.5,35.5 0 1,0 -71,0z" class="f" fill-rule="evenodd"/>
<path d="M2574.6,1599.7L2612.2,1599.7L2638.9,1626.4L2638.9,1664L2612.2,1690.7L2574.6,1690.7L2547.9,1664L2547.9,1626.4zM2565.2,1645.2a28.2,28.2 0 1,0 56.5,0a28.2,28.2 0 1,0 -56.5,0z" class="f" fill-rule="evenodd"/>
<path d="M2574.6,1750.1L2612.2,1750.1L2638.9,1776.8L2638.9,1814.4L2612.2,1841.1L2574.6,1841.1L2547.9,1814.4L2547.9,1776.8zM2565.2,1795.6a28.2,28.2 0 1,0 56.5,0a28.2,28.2 0 1,0 -56.5,0z" class="f" fill-rule="evenodd"/>
<path d="M2574.6,1900.1L2612.2,1900.1L2638.9,1926.8L2638.9,1964.4L2612.2,1991.1L2574.6,1991.1L2547.9,1964.4L2547.9,1926.8zM2565.2,1945.6a28.2,28.2 0 1,0 56.5,0a28.2,28.2 0 1,0 -56.5,0z" class="f" fill-rule="evenodd"/>
<path d="M2724.9,1599.7L2762.5,1599.7L2789.2,1626.4L2789.2,1664L2762.5,1690.7L2724.9,1690.7L2698.2,1664L2698.2,1626.4zM2715.4,1645.2a28.2,28.2 0 1,0 56.5,0a28.2,28.2 0 1,0 -56.5,0z" class="f" fill-rule="evenodd"/>
<path d="M2724.9,1750.1L2762.5,1750.1L2789.2,1776.8L2789.2,1814.4L2762.5,1841.1L2724.9,1841.1L2698.2,1814.4L2698.2,1776.8zM2715.4,1795.6a28.2,28.2 0 1,0 56.5,0a28.2,28.2 0 1,0 -56.5,0z" class="f" fill-rule="evenodd"/>
<circle cx="2743.7" cy="1945.6" r="36.9" stroke-width="17.2"/>
</g>
<g id="vias" opacity="0.706" stroke="#32c832">
<circle cx="313.2" cy="1251" r="26.5" stroke-width="18"/>
<circle cx="197.2" cy="2054.2" r="26.5" stroke-width="18"/>
<circle cx="609.3" cy="1019.1" r="26.5" stroke-width="18"/>
<circle cx="699.5" cy="1790.6" r="26.5" stroke-width="18"/>
<circle cx="1037.2" cy="1191" r="26.5" stroke-width="18"/>
<circle cx="977.2" cy="1374.8" r="26.5" stroke-width="18"/>
<circle cx="1172.2" cy="1206.1" r="26.5" stroke-width="18"/>
<circle cx="1419.4" cy="1303.8" r="26.5" stroke-width="18"/>
<circle cx="1367.4" cy="1424" r="26.5" stroke-width="18"/>
<circle cx="1479.5" cy="1424" r="26.5" stroke-width="18"/>
<circle cx="1479.4" cy="1566.2" r="26.5" stroke-width="18"/>
<circle cx="1610.7" cy="1925.9" r="26.5" stroke-width="18"/>
<circle cx="1397.5" cy="1754.1" r="26.5" stroke-width="18"/>
<circle cx="1884.2" cy="1708.5" r="26.5" stroke-width="18"/>
<circle cx="2334.3" cy="1670.2" r="26.5" stroke-width="18"/>
<circle cx="2027" cy="1566.2" r="26.5" stroke-width="18"/>
<circle cx="2451.1" cy="1480.3" r="26.5" stroke-width="18"/>
<circle cx="1280.3" cy="1926.2" r="26.5" stroke-width="18"/>
<circle cx="1276.5" cy="1662.5" r="26.5" stroke-width="18"/>
<circle cx="1380.5" cy="2143.5" r="26.5" stroke-width="18"/>
<circle cx="1179" cy="2196.4" r="26.5" stroke-width="18"/>
<circle cx="808.2" cy="1795.1" r="26.5" stroke-width="18"/>
<circle cx="894.6" cy="1941.1" r="26.5" stroke-width="18"/>
<circle cx="857.1" cy="2278.4" r="26.5" stroke-width="18"/>
<circle cx="602.7" cy="2409.6" r="26.5" stroke-width="18"/>
<circle cx="1229.2" cy="2343.1" r="26.5" stroke-width="18"/>
<circle cx="1112" cy="2406" r="26.5" stroke-width="18"/>
<circle cx="1299.3" cy="2579.1" r="26.5" stroke-width="18"/>
<circle cx="1397.3" cy="2690.6" r="26.5" stroke-width="18"/>
<circle cx="1640.5" cy="2343.1" r="26.5" stroke-width="18"/>
<circle cx="1341.3" cy="2274.5" r="26.5" stroke-width="18"/>
<circle cx="1802.4" cy="2803.9" r="26.5" stroke-width="18"/>
<circle cx="2108.6" cy="2308.5" r="26.5" stroke-width="18"/>
<circle cx="1824.4" cy="2178.1" r="26.5" stroke-width="18"/>
<circle cx="1820.7" cy="2274.6" r="26.5" stroke-width="18"/>
<circle cx="2134.8" cy="2038.8" r="26.5" stroke-width="18"/>
<circle cx="1922.3" cy="1991" r="26.5" stroke-width="18"/>
</g>
<g id="dim" opacity="0.75" stroke="#ffffff">
<polygon points="3,1.5 2927,1.5 2927,2982 3,2982" stroke-width="1.2"/>
<circle cx="264.2" cy="254.1" r="83.5" stroke-width="1.1"/>
<circle cx="2664.4" cy="254.1" r="83.5" stroke-width="1.1"/>
<circle cx="264.4" cy="2240" r="83.5" stroke-width="1.1"/>
<circle cx="2664.4" cy="2240" r="83.5" stroke-width="1.1"/>
</g>
<g id="tplace" opacity="0.706" stroke="#c8c8c8">
<polygon points="497.4,539.5 797.4,539.5 797.4,726 760,726 760,689.3 684.8,689.3 684.8,726 610,726 610,689.3 534.8,689.3 534.8,726 497.4,726" stroke-width="15"/>
<polyline points="572.4,539.5 572.4,66 587.9,36.5 706.9,36.5 722.4,66 722.4,539.5" stroke-width="15"/>
<polyline points="549.6,539.5 549.6,170 572.4,147.5" stroke-width="15"/>
<polyline points="745.2,539.5 745.2,170 722.4,147.5" stroke-width="15"/>
<text transform="translate(601.4,638) rotate(-90)" font-size="105">1</text>
<text transform="translate(748.4,645) rotate(-90)" font-size="105">2</text>
<polygon points="838.3,539.5 1138.3,539.5 1138.3,726 1100.9,726 1100.9,689.3 1025.7,689.3 1025.7,726 950.9,726 950.9,689.3 875.7,689.3 875.7,726 838.3,726" stroke-width="15"/>
<polyline points="913.3,539.5 913.3,66 928.8,36.5 1047.8,36.5 1063.3,66 1063.3,539.5" stroke-width="15"/>
<polyline points="890.5,539.5 890.5,170 913.3,147.5" stroke-width="15"/>
<polyline points="1086.1,539.5 1086.1,170 1063.3,147.5" stroke-width="15"/>
<text transform="translate(942.3,638) rotate(-90)" font-size="105">1</text>
<text transform="translate(1089.3,645) rotate(-90)" font-size="105">2</text>
<polygon points="1228.6,539.5 1828.6,539.5 1828.6,726 1791.2,726 1791.2,689.3 1716,689.3 1716,726 1641.2,726 1641.2,689.3 1566,689.3 1566,726 1491.2,726 1491.2,689.3 1416,689.3 1416,726 1341.2,726 1341.2,689.3 1266,689.3 1266,726 1228.6,726" stroke-width="15"/>
<polyline points="1303.6,539.5 1303.6,66 1319.1,36.5 1738.1,36.5 1753.6,66 1753.6,539.5" stroke-width="15"/>
<polyline points="1280.8,539.5 1280.8,170 1303.6,147.5" stroke-width="15"/>
<polyline points="1776.4,539.5 1776.4,170 1753.6,147.5" stroke-width="15"/>
<text transform="translate(1332.6,638) rotate(-90)" font-size="105">1</text>
<text transform="translate(1779.6,645) rotate(-90)" font-size="105">4</text>
<polygon points="1877.2,539.5 2477.2,539.5 2477.2,726 2439.8,726 2439.8,689.3 2364.6,689.3 2364.6,726 2289.8,726 2289.8,689.3 2214.6,689.3 2214.6,726 2139.8,726 2139.8,689.3 2064.6,689.3 2064.6,726 1989.8,726 1989.8,689.3 1914.6,689.3 1914.6,726 1877.2,726" stroke-width="15"/>
<polyline points="1952.2,539.5 1952.2,66 1967.7,36.5 2386.7,36.5 2402.2,66 2402.2,539.5" stroke-width="15"/>
<polyline points="1929.4,539.5 1929.4,170 1952.2,147.5" stroke-width="15"/>
<polyline points="2425,539.5 2425,170 2402.2,147.5" stroke-width="15"/>
<text transform="translate(1981.2,638) rotate(-90)" font-size="105">1</text>
<text transform="translate(2428.2,645) rotate(-90)" font-size="105">4</text>
<polygon points="276.1,955.2 613.4,955.2 664.4,1006.2 664.4,1292.8 613.4,1343.8 276.1,1343.8" stroke-width="12"/>
<circle cx="470.7" cy="1150.3" r="180.5" stroke-width="12"/>
<polyline points="180.2,1402.3 228.2,1402.3" stroke-width="8.6" stroke-linecap="butt"/>
<polyline points="180.2,1476.3 228.2,1476.3" stroke-width="8.6" stroke-linecap="butt"/>
<polyline points="370.1,1404.7 488.6,1404.7" stroke-width="5" stroke-linecap="butt"/>
<polyline points="370.1,1473.9 488.6,1473.9" stroke-width="5" stroke-linecap="butt"/>
<rect x="430.7" y="1432.8" width="11.2" height="12.8" class="f"/>
<rect x="458.1" y="1461.3" width="19" height="8.7" class="f"/>
<polyline points="180.2,1574.6 228.2,1574.6" stroke-width="8.6" stroke-linecap="butt"/>
<polyline points="180.2,1648.6 228.2,1648.6" stroke-width="8.6" stroke-linecap="butt"/>
<polyline points="370.1,1577 488.6,1577" stroke-width="5" stroke-linecap="butt"/>
<polyline points="370.1,1646.2 488.6,1646.2" stroke-width="5" stroke-linecap="butt"/>
<rect x="430.7" y="1605.1" width="11.2" height="12.8" class="f"/>
<rect x="458.1" y="1633.6" width="19" height="8.7" class="f"/>
<polyline points="180.2,1747.2 228.2,1747.2" stroke-width="8.6" stroke-linecap="butt"/>
<polyline points="180.2,1821.2 228.2,1821.2" stroke-width="8.6" stroke-linecap="butt"/>
<polyline points="370.1,1749.6 488.6,1749.6" stroke-width="5" stroke-linecap="butt"/>
<polyline points="370.1,1818.8 488.6,1818.8" stroke-width="5" stroke-linecap="butt"/>
<rect x="430.7" y="1777.7" width="11.2" height="12.8" class="f"/>
<rect x="458.1" y="1806.2" width="19" height="8.7" class="f"/>
<polyline points="180.2,1919.8 228.2,1919.8" stroke-width="8.6" stroke-linecap="butt"/>
<polyline points="180.2,1993.8 228.2,1993.8" stroke-width="8.6" stroke-linecap="butt"/>
<polyline points="370.1,1922.2 488.6,1922.2" stroke-width="5" stroke-linecap="butt"/>
<polyline points="370.1,1991.4 488.6,1991.4" stroke-width="5" stroke-linecap="butt"/>
<rect x="430.7" y="1950.3" width="11.2" height="12.8" class="f"/>
<rect x="458.1" y="1978.8" width="19" height="8.7" class="f"/>
<polyline points="797.9,1080.4 797.9,1206.5" stroke-width="9"/>
<polyline points="945.8,1080.4 945.8,1206.5" stroke-width="9"/>
<polygon points="978.5,1131.5 1364.3,1131.5 1364.3,1340.3 978.5,1340.3" stroke-width="12"/>
<polygon points="1390.8,1031.6 1643.5,1031.6 1643.5,1231.8 1590.5,1284.8 1443.8,1284.8 1390.8,1231.8" stroke-width="12"/>
<circle cx="1517.4" cy="1158" r="111" stroke-width="12"/>
<polygon points="1801.3,1010.5 1876.3,1010.5 1913.8,1048 1913.8,1123 1876.3,1160.5 1913.8,1198 1913.8,1273 1876.3,1310.5 1913.8,1348 1913.8,1423 1876.3,1460.5 1801.3,1460.5 1763.8,1423 1763.8,1348 1801.3,1310.5 1763.8,1273 1763.8,1198 1801.3,1160.5 1763.8,1123 1763.8,1048 1801.3,1010.5" stroke-width="9"/>
<text transform="translate(1876.4,1536) rotate(-90)" font-size="105.6">1</text>
<polygon points="2000.5,1010.5 2075.5,1010.5 2113,1048 2113,1123 2075.5,1160.5 2113,1198 2113,1273 2075.5,1310.5 2113,1348 2113,1423 2075.5,1460.5 2000.5,1460.5 1963,1423 1963,1348 2000.5,1310.5 1963,1273 1963,1198 2000.5,1160.5 1963,1123 1963,1048 2000.5,1010.5" stroke-width="9"/>
<text transform="translate(2075.6,1536) rotate(-90)" font-size="105.6">1</text>
<polygon points="2199.8,1010.5 2274.8,1010.5 2312.3,1048 2312.3,1123 2274.8,1160.5 2312.3,1198 2312.3,1273 2274.8,1310.5 2312.3,1348 2312.3,1423 2274.8,1460.5 2199.8,1460.5 2162.3,1423 2162.3,1348 2199.8,1310.5 2162.3,1273 2162.3,1198 2199.8,1160.5 2162.3,1123 2162.3,1048 2199.8,1010.5" stroke-width="9"/>
<text transform="translate(2274.9,1536) rotate(-90)" font-size="105.6">1</text>
<polygon points="1579.3,1622.3 1971.3,1622.3 1971.3,2036.3 1557.3,2036.3 1557.3,1644.3" stroke-width="9"/>
<circle cx="1602.4" cy="1666.5" r="20.5" stroke-width="9"/>
<polyline points="2168.1,1627.9 2216.1,1627.9" stroke-width="8.6" stroke-linecap="butt"/>
<polyline points="2168.1,1701.9 2216.1,1701.9" stroke-width="8.6" stroke-linecap="butt"/>
<polyline points="2125.5,1812.8 2125.5,1860.8" stroke-width="8.6" stroke-linecap="butt"/>
<polyline points="2199.5,1812.8 2199.5,1860.8" stroke-width="8.6" stroke-linecap="butt"/>
<polyline points="2252.2,1812.8 2252.2,1860.8" stroke-width="8.6" stroke-linecap="butt"/>
<polyline points="2326.2,1812.8 2326.2,1860.8" stroke-width="8.6" stroke-linecap="butt"/>
<path d="M1146.3,2130.3V1723.7A134.7,134.7 0 0,1 1415.7,1723.7V2130.3A134.7,134.7 0 0,1 1146.3,2130.3Z" stroke-width="9"/>
<polyline points="1040.8,1775.5 1040.8,1823.5" stroke-width="8.6" stroke-linecap="butt"/>
<polyline points="1114.8,1775.5 1114.8,1823.5" stroke-width="8.6" stroke-linecap="butt"/>
<polyline points="1040.8,2030.1 1040.8,2078.1" stroke-width="8.6" stroke-linecap="butt"/>
<polyline points="1114.8,2030.1 1114.8,2078.1" stroke-width="8.6" stroke-linecap="butt"/>
<polyline points="1454,2094 1454,2142" stroke-width="8.6" stroke-linecap="butt"/>
<polyline points="1528,2094 1528,2142" stroke-width="8.6" stroke-linecap="butt"/>
<polygon points="662.5,1854.6 745.4,1854.6 745.4,2036.5 662.5,2036.5" stroke-width="8"/>
<polyline points="679.3,2126.2 727.3,2126.2" stroke-width="8.6" stroke-linecap="butt"/>
<polyline points="679.3,2200.2 727.3,2200.2" stroke-width="8.6" stroke-linecap="butt"/>
<polyline points="883.3,2079.4 883.3,2127.4" stroke-width="8.6" stroke-linecap="butt"/>
<polyline points="957.3,2079.4 957.3,2127.4" stroke-width="8.6" stroke-linecap="butt"/>
<polyline points="1043.4,2264.5 1091.4,2264.5" stroke-width="8.6" stroke-linecap="butt"/>
<polyline points="1043.4,2338.5 1091.4,2338.5" stroke-width="8.6" stroke-linecap="butt"/>
<polygon points="226.7,2428.8 301.7,2428.8 339.2,2466.3 339.2,2541.3 301.7,2578.8 339.2,2616.3 339.2,2691.3 301.7,2728.8 339.2,2766.3 339.2,2841.3 301.7,2878.8 226.7,2878.8 189.2,2841.3 189.2,2766.3 226.7,2728.8 189.2,2691.3 189.2,2616.3 226.7,2578.8 189.2,2541.3 189.2,2466.3 226.7,2428.8" stroke-width="9"/>
<text transform="translate(302.2,2412) rotate(-90)" font-size="105.6">1</text>
<polygon points="451.8,2428.8 526.8,2428.8 564.3,2466.3 564.3,2541.3 526.8,2578.8 564.3,2616.3 564.3,2691.3 526.8,2728.8 564.3,2766.3 564.3,2841.3 526.8,2878.8 451.8,2878.8 414.3,2841.3 414.3,2766.3 451.8,2728.8 414.3,2691.3 414.3,2616.3 451.8,2578.8 414.3,2541.3 414.3,2466.3 451.8,2428.8" stroke-width="9"/>
<text transform="translate(527.3,2412) rotate(-90)" font-size="105.6">1</text>
<polygon points="676.8,2428.8 751.8,2428.8 789.3,2466.3 789.3,2541.3 751.8,2578.8 789.3,2616.3 789.3,2691.3 751.8,2728.8 789.3,2766.3 789.3,2841.3 751.8,2878.8 676.8,2878.8 639.3,2841.3 639.3,2766.3 676.8,2728.8 639.3,2691.3 639.3,2616.3 676.8,2578.8 639.3,2541.3 639.3,2466.3 676.8,2428.8" stroke-width="9"/>
<text transform="translate(752.3,2412) rotate(-90)" font-size="105.6">1</text>
<polygon points="901.9,2428.8 976.9,2428.8 1014.4,2466.3 1014.4,2541.3 976.9,2578.8 1014.4,2616.3 1014.4,2691.3 976.9,2728.8 1014.4,2766.3 1014.4,2841.3 976.9,2878.8 901.9,2878.8 864.4,2841.3 864.4,2766.3 901.9,2728.8 864.4,2691.3 864.4,2616.3 901.9,2578.8 864.4,2541.3 864.4,2466.3 901.9,2428.8" stroke-width="9"/>
<text transform="translate(977.4,2412) rotate(-90)" font-size="105.6">1</text>
<polygon points="1951.8,2428.8 2026.8,2428.8 2064.3,2466.3 2064.3,2541.3 2026.8,2578.8 2064.3,2616.3 2064.3,2691.3 2026.8,2728.8 2064.3,2766.3 2064.3,2841.3 2026.8,2878.8 1951.8,2878.8 1914.3,2841.3 1914.3,2766.3 1951.8,2728.8 1914.3,2691.3 1914.3,2616.3 1951.8,2578.8 1914.3,2541.3 1914.3,2466.3 1951.8,2428.8" stroke-width="9"/>
<text transform="translate(2027.3,2412) rotate(-90)" font-size="105.6">1</text>
<polygon points="2176.9,2428.8 2251.9,2428.8 2289.4,2466.3 2289.4,2541.3 2251.9,2578.8 2289.4,2616.3 2289.4,2691.3 2251.9,2728.8 2289.4,2766.3 2289.4,2841.3 2251.9,2878.8 2176.9,2878.8 2139.4,2841.3 2139.4,2766.3 2176.9,2728.8 2139.4,2691.3 2139.4,2616.3 2176.9,2578.8 2139.4,2541.3 2139.4,2466.3 2176.9,2428.8" stroke-width="9"/>
<text transform="translate(2252.4,2412) rotate(-90)" font-size="105.6">1</text>
<polygon points="2402,2428.8 2477,2428.8 2514.5,2466.3 2514.5,2541.3 2477,2578.8 2514.5,2616.3 2514.5,2691.3 2477,2728.8 2514.5,2766.3 2514.5,2841.3 2477,2878.8 2402,2878.8 2364.5,2841.3 2364.5,2766.3 2402,2728.8 2364.5,2691.3 2364.5,2616.3 2402,2578.8 2364.5,2541.3 2364.5,2466.3 2402,2428.8" stroke-width="9"/>
<text transform="translate(2477.5,2412) rotate(-90)" font-size="105.6">1</text>
<polygon points="2627.1,2428.8 2702.1,2428.8 2739.6,2466.3 2739.6,2541.3 2702.1,2578.8 2739.6,2616.3 2739.6,2691.3 2702.1,2728.8 2739.6,2766.3 2739.6,2841.3 2702.1,2878.8 2627.1,2878.8 2589.6,2841.3 2589.6,2766.3 2627.1,2728.8 2589.6,2691.3 2589.6,2616.3 2627.1,2578.8 2589.6,2541.3 2589.6,2466.3 2627.1,2428.8" stroke-width="9"/>
<text transform="translate(2702.6,2412) rotate(-90)" font-size="105.6">1</text>
<path d="M1175.5,2523H1732.3A21,21 0 0,1 1753.3,2544V2734A21,21 0 0,1 1732.3,2755H1175.5A21,21 0 0,1 1154.5,2734V2544A21,21 0 0,1 1175.5,2523Z" stroke-width="9"/>
<path d="M1154.5,2607.2A32,32 0 0,1 1154.5,2671.2" stroke-width="5"/>
<polyline points="2472,1042 2520,1042" stroke-width="8.6" stroke-linecap="butt"/>
<polyline points="2472,1116 2520,1116" stroke-width="8.6" stroke-linecap="butt"/>
<polyline points="2472,1188.3 2520,1188.3" stroke-width="8.6" stroke-linecap="butt"/>
<polyline points="2472,1262.3 2520,1262.3" stroke-width="8.6" stroke-linecap="butt"/>
<polyline points="2472,1327.4 2520,1327.4" stroke-width="8.6" stroke-linecap="butt"/>
<polyline points="2472,1401.4 2520,1401.4" stroke-width="8.6" stroke-linecap="butt"/>
<polygon points="2635.8,1032.7 2843.1,1032.7 2843.1,1387.3 2635.8,1387.3" stroke-width="11"/>
<polygon points="2694.9,1121.4 2784.6,1121.4 2784.6,1299.5 2694.9,1299.5" stroke-width="11"/>
<polygon points="2555.9,1570.2 2780.9,1570.2 2818.4,1607.7 2818.4,1682.7 2780.9,1720.2 2818.4,1757.7 2818.4,1832.7 2780.9,1870.2 2818.4,1907.7 2818.4,1982.7 2780.9,2020.2 2555.9,2020.2 2518.4,1982.7 2518.4,1907.7 2555.9,1870.2 2518.4,1832.7 2518.4,1757.7 2555.9,1720.2 2518.4,1682.7 2518.4,1607.7 2555.9,1570.2" stroke-width="9"/>
<text transform="translate(2631,1571) rotate(-90)" font-size="105.6">6</text>
<text transform="translate(2915,1982) rotate(-90)" font-size="105.6">1</text>
</g>
<g id="torig" opacity="0.8" stroke="#ffffff" stroke-width="1.2">
<path d="M587.4,839.3h120M647.4,779.3v120"/>
<path d="M928.3,839.3h120M988.3,779.3v120"/>
<path d="M1468.6,839.3h120M1528.6,779.3v120"/>
<path d="M2117.2,839.3h120M2177.2,779.3v120"/>
<path d="M410.7,1150.3h120M470.7,1090.3v120"/>
<path d="M144.2,1439.3h120M204.2,1379.3v120"/>
<path d="M369.1,1439.3h120M429.1,1379.3v120"/>
<path d="M144.2,1611.6h120M204.2,1551.6v120"/>
<path d="M369.1,1611.6h120M429.1,1551.6v120"/>
<path d="M144.2,1784.2h120M204.2,1724.2v120"/>
<path d="M369.1,1784.2h120M429.1,1724.2v120"/>
<path d="M144.2,1956.8h120M204.2,1896.8v120"/>
<path d="M369.1,1956.8h120M429.1,1896.8v120"/>
<path d="M812,1143.3h120M872,1083.3v120"/>
<path d="M1112.2,1236.3h120M1172.2,1176.3v120"/>
<path d="M1457.4,1158h120M1517.4,1098v120"/>
<path d="M1778.8,1235.9h120M1838.8,1175.9v120"/>
<path d="M1978,1235.9h120M2038,1175.9v120"/>
<path d="M2177.3,1235.9h120M2237.3,1175.9v120"/>
<path d="M1704.3,1829.3h120M1764.3,1769.3v120"/>
<path d="M2132.1,1664.9h120M2192.1,1604.9v120"/>
<path d="M2102.5,1836.8h120M2162.5,1776.8v120"/>
<path d="M2229.2,1836.8h120M2289.2,1776.8v120"/>
<path d="M1220.3,1926.2h120M1280.3,1866.2v120"/>
<path d="M1017.8,1799.5h120M1077.8,1739.5v120"/>
<path d="M1017.8,2054.1h120M1077.8,1994.1v120"/>
<path d="M1431,2118h120M1491,2058v120"/>
<path d="M643.3,1945.2h120M703.3,1885.2v120"/>
<path d="M643.3,2163.2h120M703.3,2103.2v120"/>
<path d="M860.3,2103.4h120M920.3,2043.4v120"/>
<path d="M1007.4,2301.5h120M1067.4,2241.5v120"/>
<path d="M204.2,2653.9h120M264.2,2593.9v120"/>
<path d="M429.3,2653.9h120M489.3,2593.9v120"/>
<path d="M654.3,2653.9h120M714.3,2593.9v120"/>
<path d="M879.4,2653.9h120M939.4,2593.9v120"/>
<path d="M1929.3,2653.9h120M1989.3,2593.9v120"/>
<path d="M2154.4,2653.9h120M2214.4,2593.9v120"/>
<path d="M2379.5,2653.9h120M2439.5,2593.9v120"/>
<path d="M2604.6,2653.9h120M2664.6,2593.9v120"/>
<path d="M1393.4,2639.2h120M1453.4,2579.2v120"/>
<path d="M2436,1079h120M2496,1019v120"/>
<path d="M2436,1225.3h120M2496,1165.3v120"/>
<path d="M2436,1364.4h120M2496,1304.4v120"/>
<path d="M2679.4,1209.8h120M2739.4,1149.8v120"/>
<path d="M2608.6,1795.6h120M2668.6,1735.6v120"/>
</g>
<g id="tnames" opacity="0.706" stroke="#c8c8c8">
<text x="270.7" y="934.5" font-size="105">C8</text>
<text x="492.5" y="1010.5" font-size="81">J4</text>
<text x="159.3" y="1379.3" font-size="105">R15</text>
<text x="354.5" y="1364.9" font-size="105">LED1</text>
<text x="159.3" y="1551.6" font-size="105">R16</text>
<text x="354.5" y="1537.2" font-size="105">LED2</text>
<text x="159.3" y="1724.2" font-size="105">R17</text>
<text x="354.5" y="1709.8" font-size="105">LED3</text>
<text x="159.3" y="1896.8" font-size="105">R18</text>
<text x="354.5" y="1882.4" font-size="105">LED4</text>
<text transform="translate(774.5,1270.8) rotate(-90)" font-size="105">R7</text>
<text x="834.4" y="1012" font-size="81">J3</text>
<text x="1107" y="1315.7" font-size="105">IC11</text>
<text x="1224" y="1012" font-size="81">J2</text>
<text transform="translate(1739,1162) rotate(-90)" font-size="105.6">C7</text>
<text transform="translate(1741.3,1464.7) rotate(-90)" font-size="105.6">SV10</text>
<text transform="translate(1940.5,1464.7) rotate(-90)" font-size="105.6">SV11</text>
<text transform="translate(2139.8,1464.7) rotate(-90)" font-size="105.6">SV12</text>
<text x="1873.3" y="1011" font-size="81">J1</text>
<text x="1600.8" y="1528.8" font-size="67">IC9</text>
<text x="2109.7" y="1798" font-size="105.6">C9</text>
<text transform="translate(2102,1888.3) rotate(-90)" font-size="105.6">C6</text>
<text transform="translate(2230,1888.3) rotate(-90)" font-size="105.6">C4</text>
<text transform="translate(1213.5,1881) rotate(-90)" font-size="105.6">C2</text>
<text transform="translate(1122,2222) rotate(-90)" font-size="105.6">Q2</text>
<text transform="translate(1430,2172) rotate(-90)" font-size="105.6">C3</text>
<text x="1016.4" y="2242" font-size="105.6">C10</text>
<text transform="translate(1018.5,2107) rotate(-90)" font-size="105.6">C1</text>
<text x="657.5" y="2101.5" font-size="105.6">C11</text>
<text x="643.7" y="2125.3" font-size="105.6">IC10</text>
<text transform="translate(860.5,2148) rotate(-90)" font-size="105.6">R1</text>
<text transform="translate(437,2627) rotate(-90)" font-size="105.6">SV1</text>
<text transform="translate(662.1,2627) rotate(-90)" font-size="105.6">SV2</text>
<text transform="translate(887.1,2627) rotate(-90)" font-size="105.6">SV3</text>
<text transform="translate(1112.2,2627) rotate(-90)" font-size="105.6">SV4</text>
<text transform="translate(2162.1,2627) rotate(-90)" font-size="105.6">SV5</text>
<text transform="translate(2387.2,2627) rotate(-90)" font-size="105.6">SV6</text>
<text transform="translate(2612.3,2627) rotate(-90)" font-size="105.6">SV7</text>
<text transform="translate(2837.4,2627) rotate(-90)" font-size="105.6">SV8</text>
<text transform="translate(1130,2750.8) rotate(-90)" font-size="105.6">IC8</text>
<text x="2444.6" y="1164.5" font-size="105.6">C5</text>
<text x="2405" y="1215" font-size="105.6">R6</text>
<text x="2405.4" y="1497.5" font-size="105.6">R5</text>
<text transform="translate(2964,1190.5) rotate(-90)" font-size="105.6">S1</text>
<text transform="translate(2496,2019) rotate(-90)" font-size="105.6">SV9</text>
</g>
<g id="tdocu" opacity="0.706" stroke="#c8c8c8">
<polyline points="572.4,539.5 594.4,539.5" stroke-width="15"/>
<rect x="556.8" y="690" width="31.2" height="165" class="f"/>
<rect x="706.8" y="690" width="31.2" height="165" class="f"/>
<polyline points="913.3,539.5 935.3,539.5" stroke-width="15"/>
<rect x="897.7" y="690" width="31.2" height="165" class="f"/>
<rect x="1047.7" y="690" width="31.2" height="165" class="f"/>
<polyline points="1453.6,539.5 1475.6,539.5" stroke-width="15"/>
<rect x="1288" y="690" width="31.2" height="165" class="f"/>
<rect x="1438" y="690" width="31.2" height="165" class="f"/>
<rect x="1588" y="690" width="31.2" height="165" class="f"/>
<rect x="1738" y="690" width="31.2" height="165" class="f"/>
<polyline points="2102.2,539.5 2124.2,539.5" stroke-width="15"/>
<rect x="1936.6" y="690" width="31.2" height="165" class="f"/>
<rect x="2086.6" y="690" width="31.2" height="165" class="f"/>
<rect x="2236.6" y="690" width="31.2" height="165" class="f"/>
<rect x="2386.6" y="690" width="31.2" height="165" class="f"/>
<circle cx="276.1" cy="1085" r="6" class="f"/>
<circle cx="276.1" cy="1215" r="6" class="f"/>
<circle cx="664.4" cy="1084" r="6" class="f"/>
<circle cx="664.4" cy="1215" r="6" class="f"/>
<circle cx="296.3" cy="1094.6" r="6" class="f"/>
<circle cx="296.3" cy="1205.5" r="6" class="f"/>
<circle cx="645" cy="1095.5" r="6" class="f"/>
<circle cx="645" cy="1205" r="6" class="f"/>
<rect x="140.7" y="1398" width="39.5" height="82.6" class="f"/>
<rect x="228.2" y="1398" width="39.5" height="82.6" class="f"/>
<path d="M369.9,1402 L402.5,1402 L402.5,1476.6 L369.9,1476.6 L369.9,1453.8 A18.5,14.5 0 0,0 369.9,1424.8 Z" class="f"/>
<path d="M488.3,1402 L455.7,1402 L455.7,1476.6 L488.3,1476.6 L488.3,1453.8 A18.5,14.5 0 0,1 488.3,1424.8 Z" class="f"/>
<rect x="140.7" y="1570.3" width="39.5" height="82.6" class="f"/>
<rect x="228.2" y="1570.3" width="39.5" height="82.6" class="f"/>
<path d="M369.9,1574.3 L402.5,1574.3 L402.5,1648.9 L369.9,1648.9 L369.9,1626.1 A18.5,14.5 0 0,0 369.9,1597.1 Z" class="f"/>
<path d="M488.3,1574.3 L455.7,1574.3 L455.7,1648.9 L488.3,1648.9 L488.3,1626.1 A18.5,14.5 0 0,1 488.3,1597.1 Z" class="f"/>
<rect x="140.7" y="1742.9" width="39.5" height="82.6" class="f"/>
<rect x="228.2" y="1742.9" width="39.5" height="82.6" class="f"/>
<path d="M369.9,1746.9 L402.5,1746.9 L402.5,1821.5 L369.9,1821.5 L369.9,1798.7 A18.5,14.5 0 0,0 369.9,1769.7 Z" class="f"/>
<path d="M488.3,1746.9 L455.7,1746.9 L455.7,1821.5 L488.3,1821.5 L488.3,1798.7 A18.5,14.5 0 0,1 488.3,1769.7 Z" class="f"/>
<rect x="140.7" y="1915.5" width="39.5" height="82.6" class="f"/>
<rect x="228.2" y="1915.5" width="39.5" height="82.6" class="f"/>
<path d="M369.9,1919.5 L402.5,1919.5 L402.5,1994.1 L369.9,1994.1 L369.9,1971.3 A18.5,14.5 0 0,0 369.9,1942.3 Z" class="f"/>
<path d="M488.3,1919.5 L455.7,1919.5 L455.7,1994.1 L488.3,1994.1 L488.3,1971.3 A18.5,14.5 0 0,1 488.3,1942.3 Z" class="f"/>
<rect x="793.2" y="995.4" width="156.6" height="50.8" class="f"/>
<rect x="793.2" y="1239.2" width="156.6" height="49.8" class="f"/>
<polyline points="797.9,1046 797.9,1239.3" stroke-width="9" stroke-linecap="butt"/>
<polyline points="945.8,1046 945.8,1239.3" stroke-width="9" stroke-linecap="butt"/>
<rect x="1010.2" y="1019.9" width="52" height="111.1" class="f"/>
<rect x="1146.2" y="1019.9" width="52" height="111.1" class="f"/>
<rect x="1282.2" y="1019.9" width="52" height="111.1" class="f"/>
<rect x="1076.9" y="1343.7" width="190.6" height="109" class="f"/>
<text x="1146.5" y="1221.3" font-size="21" text-anchor="end">wavesoldering</text>
<text x="1146.5" y="1247.5" font-size="21" text-anchor="end">transportation for</text>
<text x="1146.5" y="1273.6" font-size="21" text-anchor="end">direction of pcb</text>
<path d="M1172.2,1192.7l15.6,28h-31.2z" class="f"/>
<path d="M1172.2,1273.6l15.6,-29.6h-31.2z" class="f"/>
<polyline points="1172.2,1215 1172.2,1250" stroke-width="4.4" stroke-linecap="butt"/>
<circle cx="1452.3" cy="1031.6" r="6" class="f"/>
<circle cx="1582.1" cy="1031.6" r="6" class="f"/>
<circle cx="1452.3" cy="1284.8" r="6" class="f"/>
<circle cx="1582.1" cy="1284.8" r="6" class="f"/>
<circle cx="1462.3" cy="1059.7" r="6" class="f"/>
<circle cx="1573.4" cy="1059.7" r="6" class="f"/>
<circle cx="1462.3" cy="1255.8" r="6" class="f"/>
<circle cx="1573.4" cy="1255.8" r="6" class="f"/>
<rect x="1823.3" y="1070" width="31" height="31" class="f"/>
<rect x="1823.3" y="1220.4" width="31" height="31" class="f"/>
<rect x="1823.3" y="1370.7" width="31" height="31" class="f"/>
<rect x="2022.5" y="1070" width="31" height="31" class="f"/>
<rect x="2022.5" y="1220.4" width="31" height="31" class="f"/>
<rect x="2022.5" y="1370.7" width="31" height="31" class="f"/>
<rect x="2221.8" y="1070" width="31" height="31" class="f"/>
<rect x="2221.8" y="1220.4" width="31" height="31" class="f"/>
<rect x="2221.8" y="1370.7" width="31" height="31" class="f"/>
<rect x="1584.8" y="1561.5" width="28.4" height="58.2" class="f"/>
<rect x="1584.8" y="2038.9" width="28.4" height="58.2" class="f"/>
<rect x="1496.5" y="1649.8" width="58.2" height="28.4" class="f"/>
<rect x="1973.9" y="1649.8" width="58.2" height="28.4" class="f"/>
<rect x="1632" y="1561.5" width="28.4" height="58.2" class="f"/>
<rect x="1632" y="2038.9" width="28.4" height="58.2" class="f"/>
<rect x="1496.5" y="1697" width="58.2" height="28.4" class="f"/>
<rect x="1973.9" y="1697" width="58.2" height="28.4" class="f"/>
<rect x="1679.2" y="1561.5" width="28.4" height="58.2" class="f"/>
<rect x="1679.2" y="2038.9" width="28.4" height="58.2" class="f"/>
<rect x="1496.5" y="1744.2" width="58.2" height="28.4" class="f"/>
<rect x="1973.9" y="1744.2" width="58.2" height="28.4" class="f"/>
<rect x="1726.5" y="1561.5" width="28.4" height="58.2" class="f"/>
<rect x="1726.5" y="2038.9" width="28.4" height="58.2" class="f"/>
<rect x="1496.5" y="1791.5" width="58.2" height="28.4" class="f"/>
<rect x="1973.9" y="1791.5" width="58.2" height="28.4" class="f"/>
<rect x="1773.7" y="1561.5" width="28.4" height="58.2" class="f"/>
<rect x="1773.7" y="2038.9" width="28.4" height="58.2" class="f"/>
<rect x="1496.5" y="1838.7" width="58.2" height="28.4" class="f"/>
<rect x="1973.9" y="1838.7" width="58.2" height="28.4" class="f"/>
<rect x="1821" y="1561.5" width="28.4" height="58.2" class="f"/>
<rect x="1821" y="2038.9" width="28.4" height="58.2" class="f"/>
<rect x="1496.5" y="1886" width="58.2" height="28.4" class="f"/>
<rect x="1973.9" y="1886" width="58.2" height="28.4" class="f"/>
<rect x="1868.2" y="1561.5" width="28.4" height="58.2" class="f"/>
<rect x="1868.2" y="2038.9" width="28.4" height="58.2" class="f"/>
<rect x="1496.5" y="1933.2" width="58.2" height="28.4" class="f"/>
<rect x="1973.9" y="1933.2" width="58.2" height="28.4" class="f"/>
<rect x="1915.4" y="1561.5" width="28.4" height="58.2" class="f"/>
<rect x="1915.4" y="2038.9" width="28.4" height="58.2" class="f"/>
<rect x="1496.5" y="1980.4" width="58.2" height="28.4" class="f"/>
<rect x="1973.9" y="1980.4" width="58.2" height="28.4" class="f"/>
<rect x="2128.6" y="1623.6" width="39.5" height="82.6" class="f"/>
<rect x="2216.1" y="1623.6" width="39.5" height="82.6" class="f"/>
<rect x="2121.2" y="1773.3" width="82.6" height="39.5" class="f"/>
<rect x="2121.2" y="1860.8" width="82.6" height="39.5" class="f"/>
<rect x="2247.9" y="1773.3" width="82.6" height="39.5" class="f"/>
<rect x="2247.9" y="1860.8" width="82.6" height="39.5" class="f"/>
<path d="M1176,2127.5V1723.5A105,105 0 0,1 1386,1723.5V2127.5A105,105 0 0,1 1176,2127.5Z" stroke-width="2"/>
<rect x="1036.5" y="1736" width="82.6" height="39.5" class="f"/>
<rect x="1036.5" y="1823.5" width="82.6" height="39.5" class="f"/>
<rect x="1036.5" y="1990.6" width="82.6" height="39.5" class="f"/>
<rect x="1036.5" y="2078.1" width="82.6" height="39.5" class="f"/>
<rect x="1449.7" y="2054.5" width="82.6" height="39.5" class="f"/>
<rect x="1449.7" y="2142" width="82.6" height="39.5" class="f"/>
<rect x="611.2" y="1875.1" width="50.7" height="28" class="f"/>
<rect x="611.2" y="1987.3" width="50.7" height="28" class="f"/>
<rect x="746" y="1875.1" width="49.8" height="28" class="f"/>
<rect x="746" y="1931.2" width="49.8" height="28" class="f"/>
<rect x="746" y="1987.3" width="49.8" height="28" class="f"/>
<rect x="639.8" y="2121.9" width="39.5" height="82.6" class="f"/>
<rect x="727.3" y="2121.9" width="39.5" height="82.6" class="f"/>
<rect x="879" y="2039.9" width="82.6" height="39.5" class="f"/>
<rect x="879" y="2127.4" width="82.6" height="39.5" class="f"/>
<rect x="1003.9" y="2260.2" width="39.5" height="82.6" class="f"/>
<rect x="1091.4" y="2260.2" width="39.5" height="82.6" class="f"/>
<rect x="248.7" y="2488.3" width="31" height="31" class="f"/>
<rect x="248.7" y="2638.4" width="31" height="31" class="f"/>
<rect x="248.7" y="2788.6" width="31" height="31" class="f"/>
<rect x="473.8" y="2488.3" width="31" height="31" class="f"/>
<rect x="473.8" y="2638.4" width="31" height="31" class="f"/>
<rect x="473.8" y="2788.6" width="31" height="31" class="f"/>
<rect x="698.8" y="2488.3" width="31" height="31" class="f"/>
<rect x="698.8" y="2638.4" width="31" height="31" class="f"/>
<rect x="698.8" y="2788.6" width="31" height="31" class="f"/>
<rect x="923.9" y="2488.3" width="31" height="31" class="f"/>
<rect x="923.9" y="2638.4" width="31" height="31" class="f"/>
<rect x="923.9" y="2788.6" width="31" height="31" class="f"/>
<rect x="1973.8" y="2488.3" width="31" height="31" class="f"/>
<rect x="1973.8" y="2638.4" width="31" height="31" class="f"/>
<rect x="1973.8" y="2788.6" width="31" height="31" class="f"/>
<rect x="2198.9" y="2488.3" width="31" height="31" class="f"/>
<rect x="2198.9" y="2638.4" width="31" height="31" class="f"/>
<rect x="2198.9" y="2788.6" width="31" height="31" class="f"/>
<rect x="2424" y="2488.3" width="31" height="31" class="f"/>
<rect x="2424" y="2638.4" width="31" height="31" class="f"/>
<rect x="2424" y="2788.6" width="31" height="31" class="f"/>
<rect x="2649.1" y="2488.3" width="31" height="31" class="f"/>
<rect x="2649.1" y="2638.4" width="31" height="31" class="f"/>
<rect x="2649.1" y="2788.6" width="31" height="31" class="f"/>
<rect x="1175.8" y="2456" width="30.2" height="62.5" class="f"/>
<rect x="1175.8" y="2759" width="30.2" height="63.6" class="f"/>
<rect x="1250.8" y="2456" width="30.2" height="62.5" class="f"/>
<rect x="1250.8" y="2759" width="30.2" height="63.6" class="f"/>
<rect x="1325.8" y="2456" width="30.2" height="62.5" class="f"/>
<rect x="1325.8" y="2759" width="30.2" height="63.6" class="f"/>
<rect x="1400.8" y="2456" width="30.2" height="62.5" class="f"/>
<rect x="1400.8" y="2759" width="30.2" height="63.6" class="f"/>
<rect x="1475.8" y="2456" width="30.2" height="62.5" class="f"/>
<rect x="1475.8" y="2759" width="30.2" height="63.6" class="f"/>
<rect x="1550.8" y="2456" width="30.2" height="62.5" class="f"/>
<rect x="1550.8" y="2759" width="30.2" height="63.6" class="f"/>
<rect x="1625.8" y="2456" width="30.2" height="62.5" class="f"/>
<rect x="1625.8" y="2759" width="30.2" height="63.6" class="f"/>
<rect x="1700.8" y="2456" width="30.2" height="62.5" class="f"/>
<rect x="1700.8" y="2759" width="30.2" height="63.6" class="f"/>
<circle cx="1175.5" cy="2523" r="4.5" class="f"/>
<circle cx="1175.5" cy="2755" r="4.5" class="f"/>
<circle cx="1732.3" cy="2523" r="4.5" class="f"/>
<circle cx="1732.3" cy="2755" r="4.5" class="f"/>
<polyline points="1154.5,2733.2 1753.3,2733.2" stroke-width="2" stroke-linecap="butt"/>
<rect x="2432.5" y="1037.7" width="39.5" height="82.6" class="f"/>
<rect x="2520" y="1037.7" width="39.5" height="82.6" class="f"/>
<rect x="2432.5" y="1184" width="39.5" height="82.6" class="f"/>
<rect x="2520" y="1184" width="39.5" height="82.6" class="f"/>
<rect x="2432.5" y="1323.1" width="39.5" height="82.6" class="f"/>
<rect x="2520" y="1323.1" width="39.5" height="82.6" class="f"/>
<polyline points="2659.8,1032.7 2635.8,1032.7 2635.8,1387.3 2659.8,1387.3" stroke-width="11"/>
<polyline points="2819.1,1032.7 2843.1,1032.7 2843.1,1387.3 2819.1,1387.3" stroke-width="11"/>
<polyline points="2694.9,1150 2694.9,1278" stroke-width="11"/>
<polyline points="2784.6,1150 2784.6,1278" stroke-width="11"/>
<rect x="2577.9" y="1629.7" width="31" height="31" class="f"/>
<rect x="2577.9" y="1780.1" width="31" height="31" class="f"/>
<rect x="2577.9" y="1930.1" width="31" height="31" class="f"/>
<rect x="2728.2" y="1629.7" width="31" height="31" class="f"/>
<rect x="2728.2" y="1780.1" width="31" height="31" class="f"/>
<rect x="2728.2" y="1930.1" width="31" height="31" class="f"/>
</g>
<g id="holes" opacity="0.706" stroke="#c8c8c8">
<circle cx="264.2" cy="254.1" r="59.7" stroke-width="2.2"/>
<polyline points="203.2,254.1 325.2,254.1" stroke-width="2.2" stroke-linecap="butt"/>
<polyline points="264.2,193.1 264.2,315.1" stroke-width="2.2" stroke-linecap="butt"/>
<circle cx="2664.4" cy="254.1" r="59.7" stroke-width="2.2"/>
<polyline points="2603.4,254.1 2725.4,254.1" stroke-width="2.2" stroke-linecap="butt"/>
<polyline points="2664.4,193.1 2664.4,315.1" stroke-width="2.2" stroke-linecap="butt"/>
<circle cx="264.4" cy="2240" r="59.7" stroke-width="2.2"/>
<polyline points="203.4,2240 325.4,2240" stroke-width="2.2" stroke-linecap="butt"/>
<polyline points="264.4,2179 264.4,2301" stroke-width="2.2" stroke-linecap="butt"/>
<circle cx="2664.4" cy="2240" r="59.7" stroke-width="2.2"/>
<polyline points="2603.4,2240 2725.4,2240" stroke-width="2.2" stroke-linecap="butt"/>
<polyline points="2664.4,2179 2664.4,2301" stroke-width="2.2" stroke-linecap="butt"/>
</g>
</svg></body></html>
